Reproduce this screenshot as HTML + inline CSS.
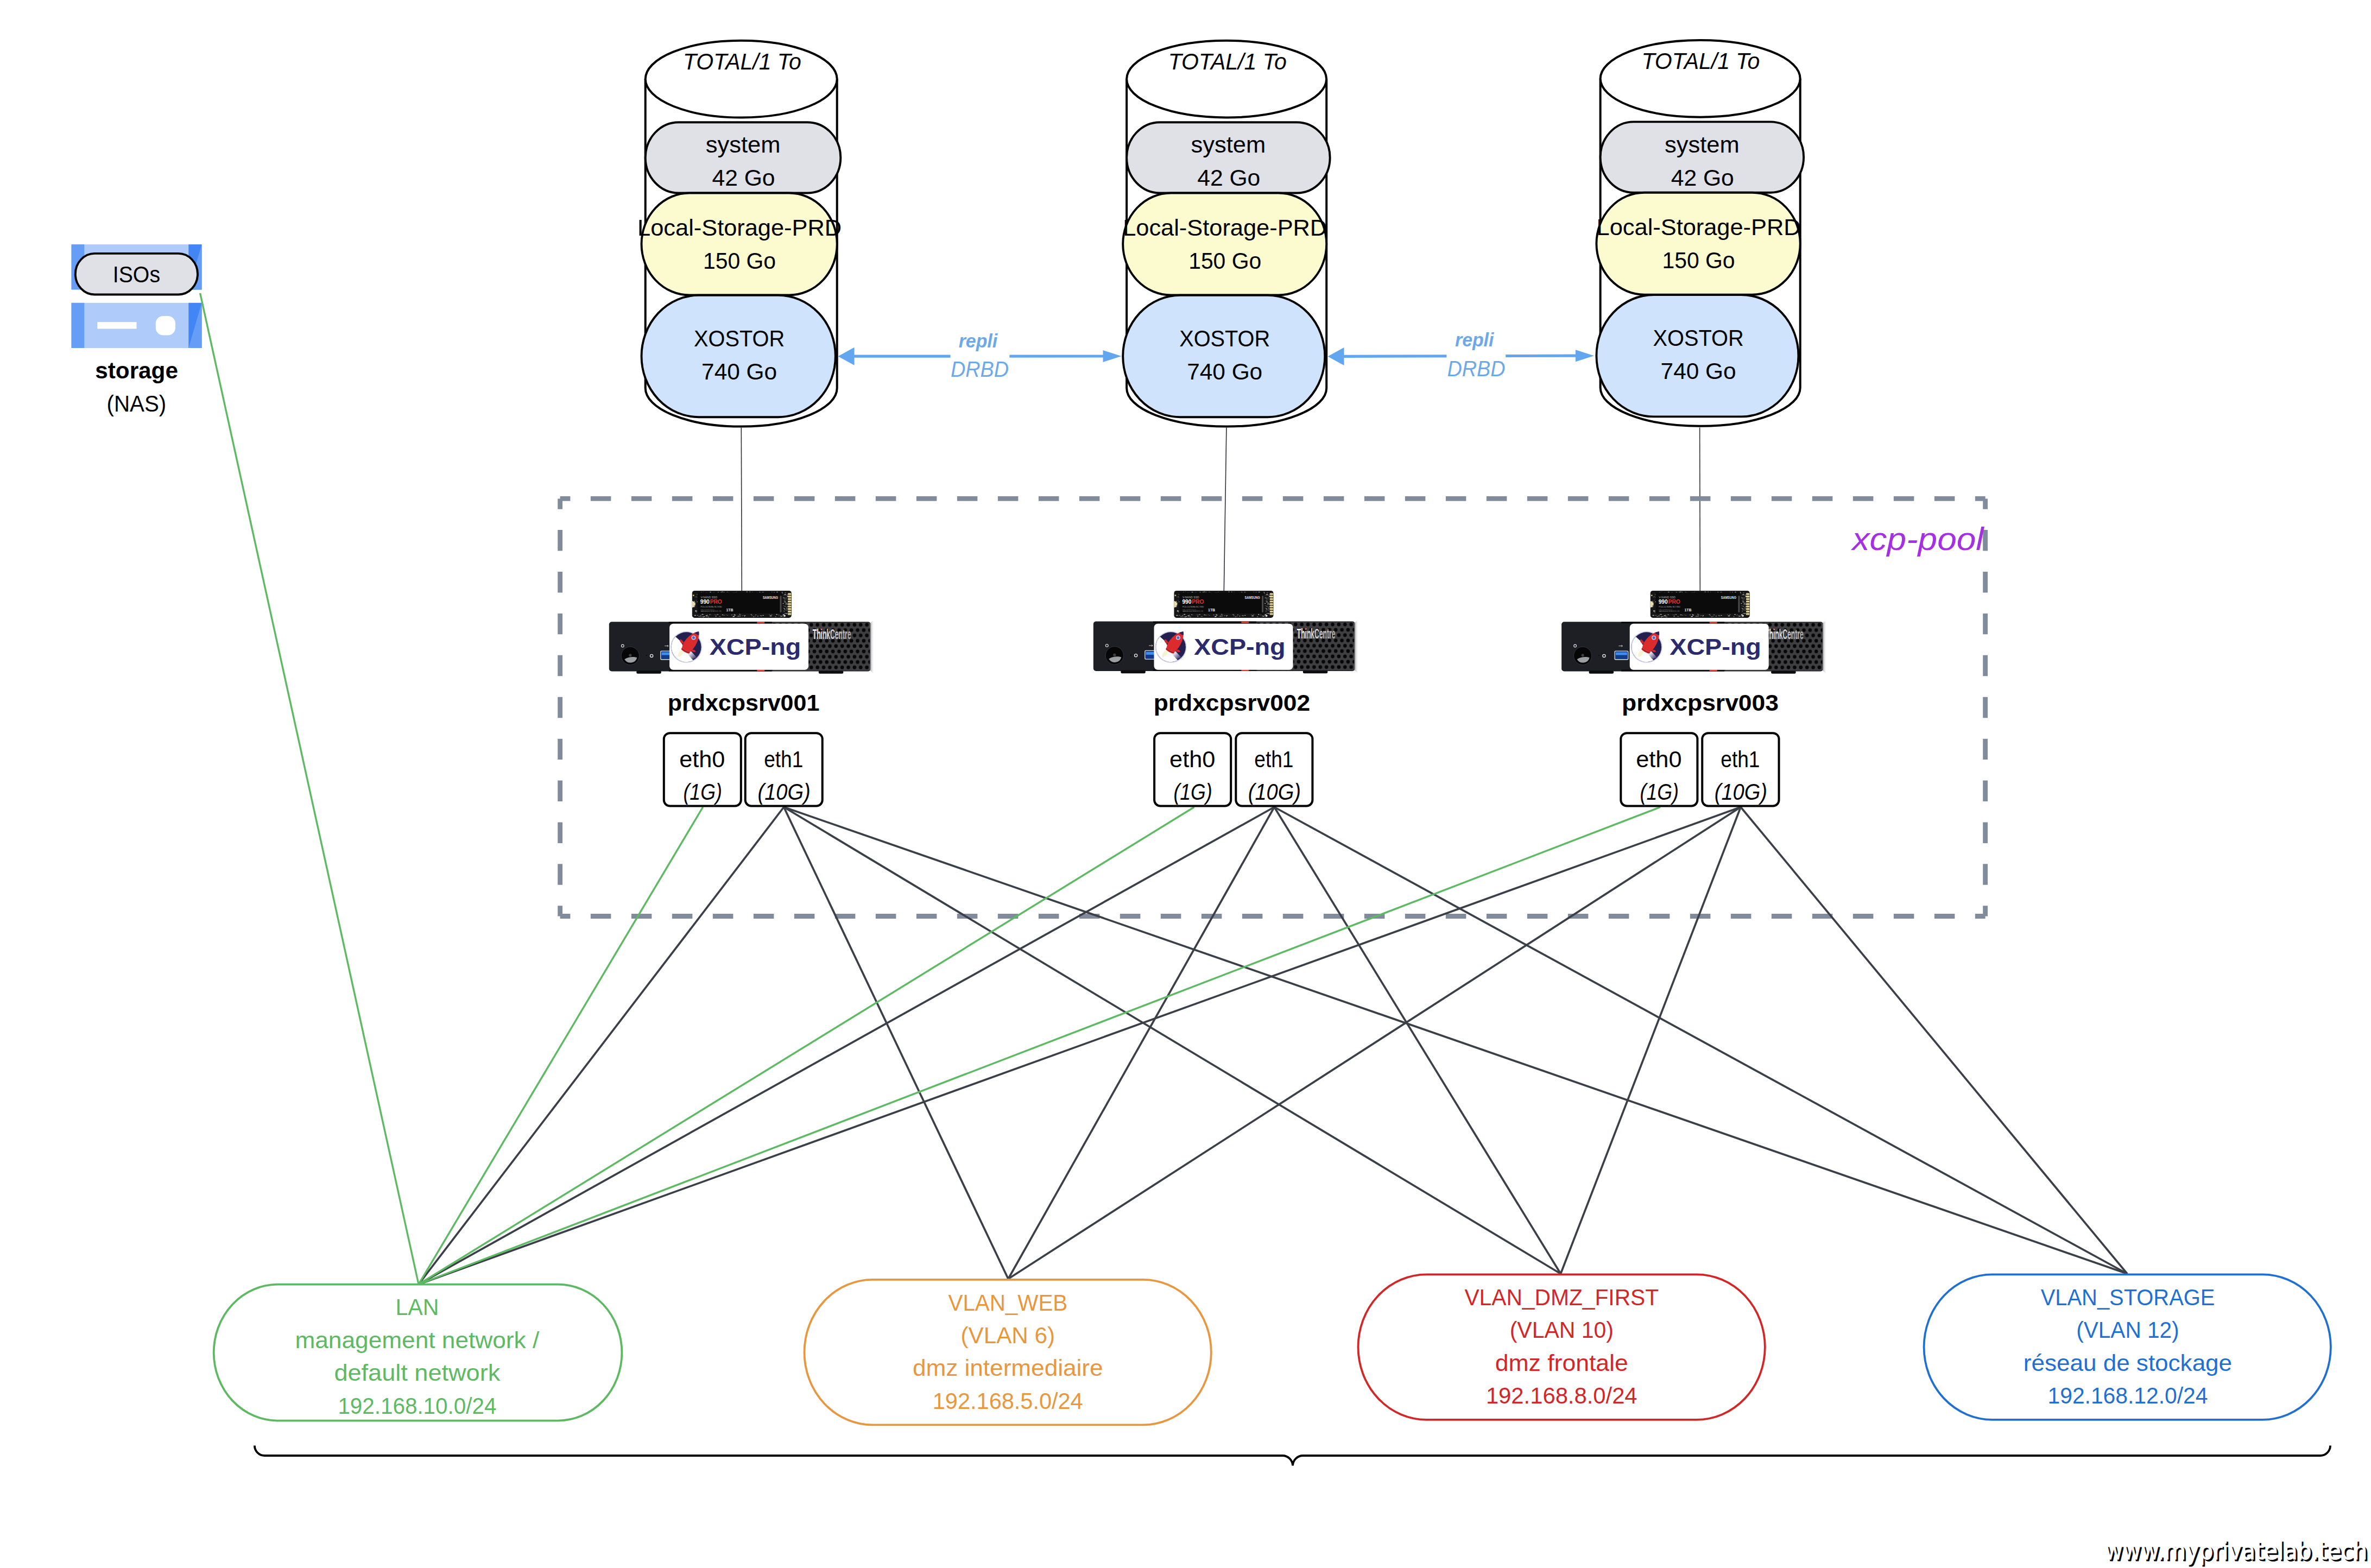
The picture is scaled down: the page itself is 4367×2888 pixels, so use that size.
<!DOCTYPE html>
<html lang="fr"><head><meta charset="utf-8"><title>xcp-pool</title>
<style>html,body{margin:0;padding:0;background:#fff}body{width:4367px;height:2888px;overflow:hidden}svg{display:block}</style>
</head><body>
<svg width="4367" height="2888" viewBox="0 0 4367 2888">
<rect width="4367" height="2888" fill="#fff"/>
<defs>
<pattern id="holes" x="366.8" y="0.7" width="11.37" height="19.6" patternUnits="userSpaceOnUse">
<rect width="11.37" height="19.6" fill="#3f3f42"/>
<circle cx="5.685" cy="4.9" r="3.35" fill="#060607"/>
<circle cx="0" cy="14.7" r="3.35" fill="#060607"/>
<circle cx="11.37" cy="14.7" r="3.35" fill="#060607"/>
</pattern>
<radialGradient id="btn" cx="0.5" cy="0.5" r="0.5">
<stop offset="0" stop-color="#4a4a4d"/><stop offset="0.55" stop-color="#1a1a1c"/><stop offset="0.8" stop-color="#050505"/><stop offset="1" stop-color="#2a2a2d"/>
</radialGradient>
<linearGradient id="edge" x1="0" x2="1" y1="0" y2="0">
<stop offset="0" stop-color="#8f8f92" stop-opacity="0.85"/><stop offset="1" stop-color="#e8e8ea" stop-opacity="0"/>
</linearGradient>
<linearGradient id="silver" x1="0" x2="1" y1="0" y2="0">
<stop offset="0" stop-color="#f4f4f6"/><stop offset="1" stop-color="#a9a9ad"/>
</linearGradient>
<linearGradient id="cloud" gradientUnits="userSpaceOnUse" x1="1" y1="6" x2="15" y2="21">
<stop offset="0" stop-color="#ffffff"/><stop offset="0.45" stop-color="#d6d4e4"/><stop offset="1" stop-color="#4c4675"/>
</linearGradient>
<clipPath id="logoclip"><circle cx="0" cy="0" r="28"/></clipPath>
</defs>
<g font-family="Liberation Sans, sans-serif">
<path d="M1188.7,145.6 V714.7 A176.5,70.9 0 0 0 1541.7,714.7 V145.6" fill="#fff" stroke="#000" stroke-width="4"/>
<ellipse cx="1365.2" cy="145.6" rx="176.5" ry="70.9" fill="#fff" stroke="#000" stroke-width="4"/>
<text x="1258.0" y="127.6" font-size="43" fill="#000" font-weight="normal" font-style="italic" textLength="217.9" lengthAdjust="spacingAndGlyphs" >TOTAL/1 To</text>
<rect x="1188.7" y="225.2" width="359.6" height="130.3" rx="61.2" ry="65.2" fill="#dfe1e6" stroke="#000" stroke-width="3.9"/>
<text x="1299.8" y="281.4" font-size="43" fill="#000" font-weight="normal" font-style="normal" textLength="137.6" lengthAdjust="spacingAndGlyphs" >system</text>
<text x="1311.5" y="342.4" font-size="43" fill="#000" font-weight="normal" font-style="normal" textLength="116.0" lengthAdjust="spacingAndGlyphs" >42 Go</text>
<rect x="1181.5" y="355.5" width="360.2" height="188.0" rx="88.4" ry="94.0" fill="#fbfbcf" stroke="#000" stroke-width="3.9"/>
<text x="1174.1" y="434.0" font-size="43" fill="#000" font-weight="normal" font-style="normal" textLength="376.0" lengthAdjust="spacingAndGlyphs" >Local-Storage-PRD</text>
<text x="1295.1" y="494.9" font-size="43" fill="#000" font-weight="normal" font-style="normal" textLength="134.0" lengthAdjust="spacingAndGlyphs" >150 Go</text>
<rect x="1181.5" y="543.8" width="357.3" height="224.4" rx="105.5" ry="112.2" fill="#cfe3fc" stroke="#000" stroke-width="3.9"/>
<text x="1278.1" y="638.0" font-size="43" fill="#000" font-weight="normal" font-style="normal" textLength="167.0" lengthAdjust="spacingAndGlyphs" >XOSTOR</text>
<text x="1292.1" y="698.5" font-size="43" fill="#000" font-weight="normal" font-style="normal" textLength="139.0" lengthAdjust="spacingAndGlyphs" >740 Go</text>
<path d="M2075.1,145.6 V714.7 A184.0,70.9 0 0 0 2443.2,714.7 V145.6" fill="#fff" stroke="#000" stroke-width="4"/>
<ellipse cx="2259.1" cy="145.6" rx="184.0" ry="70.9" fill="#fff" stroke="#000" stroke-width="4"/>
<text x="2151.8" y="127.6" font-size="43" fill="#000" font-weight="normal" font-style="italic" textLength="217.9" lengthAdjust="spacingAndGlyphs" >TOTAL/1 To</text>
<rect x="2075.1" y="225.2" width="374.5" height="130.3" rx="61.2" ry="65.2" fill="#dfe1e6" stroke="#000" stroke-width="3.9"/>
<text x="2193.6" y="281.4" font-size="43" fill="#000" font-weight="normal" font-style="normal" textLength="137.6" lengthAdjust="spacingAndGlyphs" >system</text>
<text x="2205.3" y="342.4" font-size="43" fill="#000" font-weight="normal" font-style="normal" textLength="116.0" lengthAdjust="spacingAndGlyphs" >42 Go</text>
<rect x="2068.2" y="355.5" width="375.0" height="188.0" rx="88.4" ry="94.0" fill="#fbfbcf" stroke="#000" stroke-width="3.9"/>
<text x="2068.2" y="434.0" font-size="43" fill="#000" font-weight="normal" font-style="normal" textLength="376.0" lengthAdjust="spacingAndGlyphs" >Local-Storage-PRD</text>
<text x="2189.2" y="494.9" font-size="43" fill="#000" font-weight="normal" font-style="normal" textLength="134.0" lengthAdjust="spacingAndGlyphs" >150 Go</text>
<rect x="2068.2" y="543.8" width="372.0" height="224.4" rx="105.5" ry="112.2" fill="#cfe3fc" stroke="#000" stroke-width="3.9"/>
<text x="2172.2" y="638.0" font-size="43" fill="#000" font-weight="normal" font-style="normal" textLength="167.0" lengthAdjust="spacingAndGlyphs" >XOSTOR</text>
<text x="2186.2" y="698.5" font-size="43" fill="#000" font-weight="normal" font-style="normal" textLength="139.0" lengthAdjust="spacingAndGlyphs" >740 Go</text>
<path d="M2947.6,144.8 V713.9 A184.0,70.9 0 0 0 3315.7,713.9 V144.8" fill="#fff" stroke="#000" stroke-width="4"/>
<ellipse cx="3131.6" cy="144.8" rx="184.0" ry="70.9" fill="#fff" stroke="#000" stroke-width="4"/>
<text x="3023.5" y="126.8" font-size="43" fill="#000" font-weight="normal" font-style="italic" textLength="217.9" lengthAdjust="spacingAndGlyphs" >TOTAL/1 To</text>
<rect x="2947.6" y="224.4" width="374.5" height="130.3" rx="61.2" ry="65.2" fill="#dfe1e6" stroke="#000" stroke-width="3.9"/>
<text x="3066.1" y="280.6" font-size="43" fill="#000" font-weight="normal" font-style="normal" textLength="137.6" lengthAdjust="spacingAndGlyphs" >system</text>
<text x="3077.8" y="341.6" font-size="43" fill="#000" font-weight="normal" font-style="normal" textLength="116.0" lengthAdjust="spacingAndGlyphs" >42 Go</text>
<rect x="2940.4" y="354.7" width="375.3" height="188.0" rx="88.4" ry="94.0" fill="#fbfbcf" stroke="#000" stroke-width="3.9"/>
<text x="2940.6" y="433.2" font-size="43" fill="#000" font-weight="normal" font-style="normal" textLength="376.0" lengthAdjust="spacingAndGlyphs" >Local-Storage-PRD</text>
<text x="3061.6" y="494.1" font-size="43" fill="#000" font-weight="normal" font-style="normal" textLength="134.0" lengthAdjust="spacingAndGlyphs" >150 Go</text>
<rect x="2940.4" y="543.0" width="372.0" height="224.4" rx="105.5" ry="112.2" fill="#cfe3fc" stroke="#000" stroke-width="3.9"/>
<text x="3044.6" y="637.2" font-size="43" fill="#000" font-weight="normal" font-style="normal" textLength="167.0" lengthAdjust="spacingAndGlyphs" >XOSTOR</text>
<text x="3058.6" y="697.7" font-size="43" fill="#000" font-weight="normal" font-style="normal" textLength="139.0" lengthAdjust="spacingAndGlyphs" >740 Go</text>
<line x1="1365.3" y1="787.5" x2="1366.3" y2="1089" stroke="#2e3238" stroke-width="1.6"/>
<line x1="2258.9" y1="787.5" x2="2254.3" y2="1089" stroke="#2e3238" stroke-width="1.6"/>
<line x1="3130.6" y1="787.5" x2="3131.3" y2="1089" stroke="#2e3238" stroke-width="1.6"/>
<line x1="1568.5" y1="656.2" x2="2035.5" y2="656.0" stroke="#62a6f0" stroke-width="5.2"/>
<polygon points="1543.5,656.2 1573.5,639.7 1573.5,672.7" fill="#62a6f0"/>
<polygon points="2065.5,656.0 2031.5,645.0 2031.5,667.0" fill="#62a6f0"/>
<rect x="1750.5" y="606.2" width="108.79999999999995" height="95" fill="#fff"/>
<text x="1765.7" y="639.7" font-size="35" fill="#6da9ea" font-weight="bold" font-style="italic" textLength="71.4" lengthAdjust="spacingAndGlyphs" >repli</text>
<text x="1751.1" y="694.1" font-size="40" fill="#6da9ea" font-weight="normal" font-style="italic" textLength="106.9" lengthAdjust="spacingAndGlyphs" >DRBD</text>
<line x1="2470.5" y1="656.4" x2="2905.9" y2="655.2" stroke="#62a6f0" stroke-width="5.2"/>
<polygon points="2445.5,656.4 2475.5,639.9 2475.5,672.9" fill="#62a6f0"/>
<polygon points="2935.9,655.2 2901.9,644.2 2901.9,666.2" fill="#62a6f0"/>
<rect x="2664.4" y="606.4" width="108.79999999999973" height="95" fill="#fff"/>
<text x="2680.0" y="638.4" font-size="35" fill="#6da9ea" font-weight="bold" font-style="italic" textLength="71.4" lengthAdjust="spacingAndGlyphs" >repli</text>
<text x="2665.5" y="693.4" font-size="40" fill="#6da9ea" font-weight="normal" font-style="italic" textLength="106.9" lengthAdjust="spacingAndGlyphs" >DRBD</text>
<line x1="1031.6" y1="918.4" x2="3656.6" y2="918.4" stroke="#808b9c" stroke-width="8.8" stroke-dasharray="37.500 37.500" stroke-dashoffset="18.750"/>
<line x1="1031.6" y1="1687.5" x2="3656.6" y2="1687.5" stroke="#808b9c" stroke-width="8.8" stroke-dasharray="37.500 37.500" stroke-dashoffset="18.750"/>
<line x1="1031.6" y1="918.4" x2="1031.6" y2="1687.5" stroke="#808b9c" stroke-width="8.8" stroke-dasharray="38.455 38.455" stroke-dashoffset="19.227"/>
<line x1="3656.6" y1="918.4" x2="3656.6" y2="1687.5" stroke="#808b9c" stroke-width="8.8" stroke-dasharray="38.455 38.455" stroke-dashoffset="19.227"/>
<text x="3411.6" y="1012.5" font-size="59" fill="#a62fe2" font-weight="normal" font-style="italic" textLength="242.0" lengthAdjust="spacingAndGlyphs" >xcp-pool</text>
<line x1="1443.7" y1="1486.5" x2="771" y2="2365.5" stroke="#3b4048" stroke-width="3.7"/>
<line x1="1443.7" y1="1486.5" x2="1857" y2="2355.5" stroke="#3b4048" stroke-width="3.7"/>
<line x1="1443.7" y1="1486.5" x2="2874.5" y2="2346" stroke="#3b4048" stroke-width="3.7"/>
<line x1="1443.7" y1="1486.5" x2="3918" y2="2346" stroke="#3b4048" stroke-width="3.7"/>
<line x1="2347" y1="1486.5" x2="771" y2="2365.5" stroke="#3b4048" stroke-width="3.7"/>
<line x1="2347" y1="1486.5" x2="1857" y2="2355.5" stroke="#3b4048" stroke-width="3.7"/>
<line x1="2347" y1="1486.5" x2="2874.5" y2="2346" stroke="#3b4048" stroke-width="3.7"/>
<line x1="2347" y1="1486.5" x2="3918" y2="2346" stroke="#3b4048" stroke-width="3.7"/>
<line x1="3206.1" y1="1486.5" x2="771" y2="2365.5" stroke="#3b4048" stroke-width="3.7"/>
<line x1="3206.1" y1="1486.5" x2="1857" y2="2355.5" stroke="#3b4048" stroke-width="3.7"/>
<line x1="3206.1" y1="1486.5" x2="2874.5" y2="2346" stroke="#3b4048" stroke-width="3.7"/>
<line x1="3206.1" y1="1486.5" x2="3918" y2="2346" stroke="#3b4048" stroke-width="3.7"/>
<line x1="1294.6" y1="1486.5" x2="771" y2="2365.5" stroke="#5dba63" stroke-width="3.4"/>
<line x1="2199.5" y1="1486.5" x2="771" y2="2365.5" stroke="#5dba63" stroke-width="3.4"/>
<line x1="3058" y1="1486.5" x2="771" y2="2365.5" stroke="#5dba63" stroke-width="3.4"/>
<line x1="368.6" y1="540" x2="771" y2="2365.5" stroke="#5dba63" stroke-width="3.4"/>
<rect x="131.5" y="450.2" width="240" height="83.2" fill="#aecbfa"/>
<rect x="131.5" y="450.2" width="23.8" height="83.2" fill="#669df6"/>
<rect x="347.3" y="450.2" width="24.2" height="83.2" fill="#4285f4"/>
<polygon points="371.5,450.2 371.5,533.4 347.3,533.4" fill="#669df6"/>
<rect x="131.5" y="557.8" width="240" height="83.2" fill="#aecbfa"/>
<rect x="131.5" y="557.8" width="23.8" height="83.2" fill="#669df6"/>
<rect x="347.3" y="557.8" width="24.2" height="83.2" fill="#4285f4"/>
<polygon points="371.5,557.8 371.5,641.0 347.3,641.0" fill="#669df6"/>
<rect x="179.3" y="593.1" width="72.2" height="12.4" fill="#fff"/>
<rect x="286.7" y="581.9" width="36.3" height="35.7" rx="14" fill="#fff"/>
<rect x="138.8" y="466.9" width="225.2" height="75.6" rx="35.5" ry="37.8" fill="#dfe1e6" stroke="#000" stroke-width="3.9"/>
<text x="207.8" y="519.9" font-size="43" fill="#000" font-weight="normal" font-style="normal" textLength="87.2" lengthAdjust="spacingAndGlyphs" >ISOs</text>
<text x="175.2" y="697.1" font-size="43" fill="#000" font-weight="bold" font-style="normal" textLength="152.8" lengthAdjust="spacingAndGlyphs" >storage</text>
<text x="196.5" y="758.2" font-size="43" fill="#000" font-weight="normal" font-style="normal" textLength="109.7" lengthAdjust="spacingAndGlyphs" >(NAS)</text>
<g transform="translate(1121.8,1145.2)">
<rect x="0" y="0" width="482" height="91.3" rx="5" fill="#1e1f25"/>
<rect x="110" y="0" width="190" height="3" fill="#0a0a0b"/><rect x="110" y="88.3" width="190" height="3" fill="#0a0a0b"/>
<rect x="50.5" y="90" width="45.5" height="5.6" rx="2.2" fill="#0d0d0f"/><rect x="386" y="90" width="45.5" height="5.6" rx="2.2" fill="#0d0d0f"/>
<rect x="300" y="1.2" width="180.8" height="88.9" rx="4" fill="url(#holes)"/>
<polygon points="480.5,3 487,-3 488,97 480.5,89" fill="url(#edge)"/>
<rect x="272.5" y="0" width="14" height="3" fill="#e23b2e"/><rect x="272.5" y="88.6" width="14" height="2.7" fill="#e23b2e"/>
<circle cx="39" cy="62.7" r="16.6" fill="#060607"/><circle cx="39" cy="62.7" r="16.6" fill="none" stroke="#34353c" stroke-width="1"/>
<path d="M28.5,69 A12.5,12.5 0 0 0 51.5,66 C46,64 36,64 28.5,69 Z" fill="#b9babd" opacity="0.85"/>
<circle cx="39" cy="61.6" r="2.6" fill="#3d3e44"/>
<circle cx="25" cy="44.3" r="2.4" fill="none" stroke="#e8e8e8" stroke-width="1.1"/>
<circle cx="78.3" cy="62.7" r="2.6" fill="none" stroke="#e8e8e8" stroke-width="1.3"/><circle cx="69" cy="62" r="1" fill="#08080a"/>
<rect x="94.3" y="53.2" width="26" height="17" rx="2.2" fill="#d7dbe3"/><rect x="95.6" y="54.5" width="23.4" height="14.4" rx="1.4" fill="#123a8a"/><rect x="96.89999999999999" y="56.3" width="20.8" height="5" fill="#3f8ff0"/>
<path d="M102.3,44.5 h7 m-2,-1.6 l2,1.6 l-2,1.6" fill="none" stroke="#d9d9d9" stroke-width="0.9"/>
<text x="375" y="31.7" font-size="25.5" font-weight="bold" fill="url(#silver)" textLength="70.6" lengthAdjust="spacingAndGlyphs">ThinkCentre</text>
<circle cx="390.4" cy="13.2" r="1.4" fill="#d8362b"/>
</g>
<rect x="1233.1" y="1148.8" width="256" height="85" rx="7" fill="#fff"/>
<g transform="translate(1264.1,1191.7)">
<circle r="29" fill="#c9cbe6"/><circle r="27.4" fill="#231f4e"/>
<path d="M-19.8,-18.9 L-12,-12 L-7,-4 L-4,4 L3,9 L9,20 L12.5,24.4 A27.4,27.4 0 0 1 -19.8,-18.9 Z" fill="#fff"/>
<path d="M-4.5,4.5 L9,8 L19.2,19.3 L10.5,22.3 Z" fill="url(#cloud)"/>
<ellipse cx="-10.5" cy="11.5" rx="3.6" ry="7.5" transform="rotate(38 -10.5 11.5)" fill="#f4eeb9" opacity="0.7"/>
<path d="M23,-28.5 C12,-27 1,-19 -6,-6 L-8,1 C-4,5 2,8 7,9 L12,4 C20,-6 24,-17 23,-28.5 Z" fill="#db2b2c"/>
<path d="M23,-28.5 C20,-28.3 17.5,-27.5 15,-26.3 C17.5,-24 20.5,-22.5 23.3,-21.8 C23.6,-24 23.4,-26.5 23,-28.5 Z" fill="#2a2460"/>
<path d="M-4.5,-8.5 C-8,-14 -11,-15.5 -11.8,-13 C-12.5,-10.5 -10,-8 -7.5,-6 Z" fill="#d42627"/>
<path d="M10,5 C14,4 17,6 17,8.5 C16.5,10 13,9.5 9.5,8 Z" fill="#d42627"/>
<path d="M-8,1 C-4,5 2,8 7,9 L5,12 C0,11 -6,8 -9.5,4 Z" fill="#b71f22"/>
<circle cx="13.4" cy="-17.3" r="4" fill="#c9cbe6"/><circle cx="13.4" cy="-17.3" r="2.5" fill="#5862bf"/>
</g>
<text x="1306.7" y="1206.3" font-size="43" font-weight="bold" fill="#2b2a6c" textLength="168.5" lengthAdjust="spacingAndGlyphs">XCP-ng</text>
<g transform="translate(1274.8,1087.9)">
<rect x="0" y="0" width="183" height="50" rx="4.5" fill="#161617"/>
<rect x="175.5" y="3.5" width="7" height="43" rx="2" fill="#2a2618"/>
<rect x="176.3" y="4.6" width="6.2" height="3.3" rx="1.2" fill="#e2d194"/>
<rect x="176.3" y="9.2" width="6.2" height="3.3" rx="1.2" fill="#e2d194"/>
<rect x="176.3" y="13.8" width="6.2" height="3.3" rx="1.2" fill="#e2d194"/>
<rect x="176.3" y="18.4" width="6.2" height="3.3" rx="1.2" fill="#e2d194"/>
<rect x="176.3" y="23.0" width="6.2" height="3.3" rx="1.2" fill="#e2d194"/>
<rect x="176.3" y="27.6" width="6.2" height="3.3" rx="1.2" fill="#e2d194"/>
<rect x="176.3" y="32.2" width="6.2" height="3.3" rx="1.2" fill="#e2d194"/>
<rect x="176.3" y="36.8" width="6.2" height="3.3" rx="1.2" fill="#e2d194"/>
<rect x="176.3" y="41.4" width="6.2" height="3.3" rx="1.2" fill="#e2d194"/>
<path d="M0,19 A6,6 0 0 1 0,31 Z" fill="#e9dcae"/><rect x="1.2" y="7.5" width="2.6" height="2.6" fill="#cdb46a"/>
<rect x="63.8" y="2.2" width="2.4" height="0.7" fill="#777"/>
<rect x="27.1" y="3.9" width="3.0" height="0.8" fill="#8f8f8f"/>
<rect x="81.4" y="1.9" width="1.0" height="0.9" fill="#777"/>
<rect x="31.8" y="2.5" width="2.3" height="1.3" fill="#777"/>
<rect x="105.7" y="1.8" width="1.3" height="1.0" fill="#c9c9c9"/>
<rect x="58.3" y="2.2" width="1.1" height="0.8" fill="#c9c9c9"/>
<rect x="28.5" y="3.8" width="1.3" height="0.7" fill="#8f8f8f"/>
<rect x="102.3" y="4.0" width="2.0" height="1.0" fill="#5c5c5c"/>
<rect x="86.5" y="5.2" width="1.7" height="0.8" fill="#c9c9c9"/>
<rect x="123.8" y="2.6" width="2.2" height="1.0" fill="#5c5c5c"/>
<rect x="128.7" y="2.7" width="3.2" height="0.7" fill="#e6e6e6"/>
<rect x="38.4" y="2.9" width="3.0" height="0.9" fill="#8f8f8f"/>
<rect x="134.3" y="3.8" width="2.9" height="0.8" fill="#5c5c5c"/>
<rect x="107.1" y="3.9" width="1.9" height="1.2" fill="#5c5c5c"/>
<rect x="87.9" y="4.2" width="0.9" height="1.1" fill="#777"/>
<rect x="170.9" y="4.8" width="1.5" height="0.9" fill="#5c5c5c"/>
<rect x="15.6" y="3.4" width="1.2" height="0.7" fill="#8f8f8f"/>
<rect x="46.9" y="2.7" width="2.6" height="0.9" fill="#e6e6e6"/>
<rect x="24.9" y="3.4" width="2.1" height="1.2" fill="#e6e6e6"/>
<rect x="150.2" y="2.7" width="1.8" height="0.9" fill="#e6e6e6"/>
<rect x="165.2" y="2.2" width="1.2" height="0.8" fill="#c9c9c9"/>
<rect x="13.9" y="4.8" width="1.2" height="0.8" fill="#c9c9c9"/>
<rect x="79.0" y="3.0" width="2.2" height="1.3" fill="#777"/>
<rect x="164.0" y="4.2" width="2.6" height="0.9" fill="#777"/>
<rect x="74.8" y="3.2" width="1.0" height="1.0" fill="#8f8f8f"/>
<rect x="42.5" y="5.4" width="1.9" height="0.7" fill="#777"/>
<rect x="20.4" y="1.6" width="1.2" height="0.7" fill="#5c5c5c"/>
<rect x="110.2" y="1.9" width="1.3" height="0.9" fill="#5c5c5c"/>
<rect x="164.9" y="3.9" width="1.9" height="0.7" fill="#e6e6e6"/>
<rect x="170.9" y="3.4" width="2.0" height="0.7" fill="#8f8f8f"/>
<rect x="131.9" y="4.5" width="1.9" height="1.1" fill="#777"/>
<rect x="15.7" y="5.3" width="2.1" height="0.7" fill="#777"/>
<rect x="158.3" y="4.6" width="1.5" height="1.1" fill="#8f8f8f"/>
<rect x="123.4" y="2.6" width="1.7" height="0.7" fill="#c9c9c9"/>
<rect x="97.2" y="4.6" width="1.6" height="0.8" fill="#c9c9c9"/>
<rect x="141.0" y="4.8" width="2.6" height="0.8" fill="#777"/>
<rect x="90.8" y="4.5" width="3.2" height="1.2" fill="#e6e6e6"/>
<rect x="53.5" y="4.3" width="3.1" height="0.9" fill="#5c5c5c"/>
<rect x="164.8" y="3.0" width="1.3" height="0.8" fill="#c9c9c9"/>
<rect x="66.0" y="3.5" width="3.2" height="1.0" fill="#8f8f8f"/>
<rect x="88.7" y="4.1" width="2.7" height="0.7" fill="#8f8f8f"/>
<rect x="157.6" y="4.7" width="2.6" height="0.9" fill="#c9c9c9"/>
<rect x="81.4" y="4.1" width="1.0" height="1.3" fill="#e6e6e6"/>
<rect x="86.1" y="4.5" width="1.0" height="0.7" fill="#c9c9c9"/>
<rect x="16.4" y="3.9" width="1.9" height="1.1" fill="#777"/>
<rect x="144.2" y="5.4" width="2.4" height="0.8" fill="#777"/>
<rect x="99.7" y="1.7" width="2.7" height="1.1" fill="#8f8f8f"/>
<rect x="96.3" y="5.2" width="1.8" height="1.2" fill="#c9c9c9"/>
<rect x="16.5" y="2.4" width="2.0" height="1.1" fill="#5c5c5c"/>
<rect x="53.5" y="3.2" width="1.1" height="1.2" fill="#5c5c5c"/>
<rect x="155.6" y="4.2" width="2.8" height="1.0" fill="#777"/>
<rect x="32.9" y="2.2" width="2.0" height="1.2" fill="#c9c9c9"/>
<rect x="109.4" y="4.6" width="1.2" height="0.7" fill="#777"/>
<rect x="128.0" y="3.8" width="1.6" height="1.0" fill="#777"/>
<rect x="89.2" y="4.6" width="2.9" height="0.6" fill="#c9c9c9"/>
<rect x="56.3" y="4.6" width="2.0" height="1.0" fill="#8f8f8f"/>
<rect x="82.9" y="4.0" width="2.0" height="1.0" fill="#5c5c5c"/>
<rect x="84.4" y="3.7" width="1.9" height="1.3" fill="#777"/>
<rect x="152.2" y="5.3" width="1.4" height="1.0" fill="#c9c9c9"/>
<rect x="146.4" y="2.1" width="1.1" height="0.9" fill="#8f8f8f"/>
<rect x="119.4" y="3.3" width="1.3" height="0.8" fill="#8f8f8f"/>
<rect x="155.5" y="2.2" width="2.5" height="1.1" fill="#c9c9c9"/>
<rect x="52.5" y="2.1" width="1.9" height="1.1" fill="#8f8f8f"/>
<rect x="75.7" y="3.5" width="3.2" height="1.2" fill="#c9c9c9"/>
<rect x="125.0" y="5.5" width="1.8" height="0.9" fill="#5c5c5c"/>
<rect x="63.0" y="4.4" width="0.8" height="1.0" fill="#e6e6e6"/>
<rect x="124.5" y="3.1" width="2.0" height="0.8" fill="#8f8f8f"/>
<rect x="30.1" y="5.2" width="1.3" height="1.2" fill="#8f8f8f"/>
<rect x="54.5" y="1.8" width="2.7" height="0.8" fill="#c9c9c9"/>
<rect x="143.2" y="4.9" width="2.4" height="1.3" fill="#e6e6e6"/>
<rect x="29.1" y="47.8" width="2.2" height="1.1" fill="#8f8f8f"/>
<rect x="50.9" y="47.1" width="1.2" height="1.2" fill="#5c5c5c"/>
<rect x="161.6" y="46.2" width="2.7" height="0.7" fill="#c9c9c9"/>
<rect x="15.2" y="47.5" width="1.9" height="0.8" fill="#777"/>
<rect x="74.2" y="47.7" width="2.3" height="0.6" fill="#c9c9c9"/>
<rect x="161.6" y="48.0" width="1.4" height="0.7" fill="#5c5c5c"/>
<rect x="109.6" y="45.7" width="1.3" height="0.9" fill="#c9c9c9"/>
<rect x="49.4" y="47.1" width="3.2" height="0.6" fill="#8f8f8f"/>
<rect x="127.2" y="45.8" width="1.3" height="0.9" fill="#e6e6e6"/>
<rect x="21.9" y="47.2" width="1.8" height="0.9" fill="#e6e6e6"/>
<rect x="167.0" y="44.5" width="1.3" height="0.8" fill="#c9c9c9"/>
<rect x="143.8" y="46.6" width="2.3" height="0.9" fill="#5c5c5c"/>
<rect x="169.0" y="47.3" width="0.8" height="1.0" fill="#5c5c5c"/>
<rect x="76.4" y="43.1" width="2.4" height="0.9" fill="#777"/>
<rect x="116.7" y="44.3" width="1.4" height="0.8" fill="#e6e6e6"/>
<rect x="35.1" y="44.3" width="0.8" height="0.9" fill="#5c5c5c"/>
<rect x="167.4" y="45.8" width="1.4" height="1.3" fill="#5c5c5c"/>
<rect x="40.6" y="43.8" width="1.6" height="0.7" fill="#5c5c5c"/>
<rect x="88.5" y="43.9" width="2.0" height="0.6" fill="#5c5c5c"/>
<rect x="141.3" y="43.6" width="2.2" height="0.9" fill="#5c5c5c"/>
<rect x="55.1" y="44.1" width="2.2" height="1.0" fill="#c9c9c9"/>
<rect x="114.5" y="46.7" width="2.9" height="0.9" fill="#5c5c5c"/>
<rect x="125.1" y="45.5" width="1.5" height="1.0" fill="#c9c9c9"/>
<rect x="11.4" y="47.3" width="2.9" height="1.0" fill="#777"/>
<rect x="27.4" y="45.6" width="2.0" height="1.2" fill="#8f8f8f"/>
<rect x="142.8" y="46.0" width="2.9" height="1.1" fill="#c9c9c9"/>
<rect x="18.3" y="43.0" width="2.3" height="1.3" fill="#e6e6e6"/>
<rect x="144.4" y="45.8" width="2.3" height="1.0" fill="#c9c9c9"/>
<rect x="86.2" y="42.8" width="2.7" height="1.1" fill="#777"/>
<rect x="154.8" y="43.3" width="2.1" height="1.1" fill="#e6e6e6"/>
<rect x="46.4" y="43.2" width="1.4" height="1.1" fill="#c9c9c9"/>
<rect x="42.8" y="46.3" width="1.9" height="1.2" fill="#8f8f8f"/>
<rect x="84.5" y="46.5" width="2.6" height="1.0" fill="#c9c9c9"/>
<rect x="17.0" y="43.6" width="1.4" height="1.1" fill="#5c5c5c"/>
<rect x="108.4" y="43.5" width="2.0" height="0.9" fill="#8f8f8f"/>
<rect x="120.3" y="46.4" width="1.5" height="1.0" fill="#e6e6e6"/>
<rect x="82.3" y="46.9" width="3.2" height="1.0" fill="#5c5c5c"/>
<rect x="168.3" y="47.9" width="0.8" height="0.9" fill="#777"/>
<rect x="166.6" y="45.2" width="1.4" height="0.7" fill="#c9c9c9"/>
<rect x="16.5" y="43.3" width="2.6" height="0.8" fill="#5c5c5c"/>
<rect x="26.3" y="47.2" width="2.0" height="1.2" fill="#5c5c5c"/>
<rect x="42.9" y="47.6" width="2.0" height="0.6" fill="#8f8f8f"/>
<rect x="163.6" y="46.5" width="1.8" height="1.1" fill="#e6e6e6"/>
<rect x="61.8" y="44.5" width="2.8" height="0.6" fill="#5c5c5c"/>
<rect x="145.0" y="43.4" width="3.0" height="1.1" fill="#5c5c5c"/>
<rect x="46.5" y="43.2" width="1.7" height="1.2" fill="#8f8f8f"/>
<rect x="64.6" y="45.1" width="1.5" height="0.6" fill="#8f8f8f"/>
<rect x="12.7" y="46.4" width="2.3" height="0.7" fill="#5c5c5c"/>
<rect x="77.3" y="44.5" width="2.7" height="1.1" fill="#e6e6e6"/>
<rect x="152.6" y="47.2" width="2.3" height="1.2" fill="#777"/>
<rect x="96.3" y="46.7" width="0.9" height="1.1" fill="#e6e6e6"/>
<rect x="107.3" y="43.5" width="2.9" height="0.9" fill="#777"/>
<rect x="25.4" y="45.3" width="1.6" height="0.8" fill="#5c5c5c"/>
<rect x="72.2" y="44.1" width="2.0" height="1.1" fill="#8f8f8f"/>
<rect x="32.1" y="43.7" width="1.3" height="1.2" fill="#e6e6e6"/>
<rect x="96.5" y="45.2" width="1.6" height="1.1" fill="#e6e6e6"/>
<rect x="27.5" y="43.8" width="1.0" height="0.8" fill="#8f8f8f"/>
<rect x="57.6" y="44.8" width="2.7" height="0.7" fill="#8f8f8f"/>
<rect x="129.9" y="45.0" width="1.8" height="1.0" fill="#e6e6e6"/>
<rect x="49.4" y="46.9" width="2.0" height="1.0" fill="#5c5c5c"/>
<rect x="25.1" y="45.5" width="2.3" height="1.2" fill="#c9c9c9"/>
<rect x="19.6" y="47.6" width="1.7" height="1.1" fill="#e6e6e6"/>
<rect x="164.3" y="47.4" width="2.9" height="0.6" fill="#8f8f8f"/>
<rect x="75.4" y="46.9" width="2.7" height="1.3" fill="#e6e6e6"/>
<rect x="4.0" y="44.9" width="3.0" height="1.2" fill="#e6e6e6"/>
<rect x="167.3" y="44.1" width="1.1" height="0.7" fill="#777"/>
<rect x="167.3" y="43.4" width="2.8" height="1.1" fill="#e6e6e6"/>
<rect x="18.3" y="47.0" width="0.8" height="0.7" fill="#777"/>
<rect x="158.5" y="46.3" width="1.5" height="0.7" fill="#5c5c5c"/>
<rect x="92.7" y="45.2" width="2.6" height="0.7" fill="#5c5c5c"/>
<rect x="92.1" y="45.9" width="1.7" height="0.8" fill="#777"/>
<rect x="4.2" y="45.7" width="3.2" height="0.8" fill="#5c5c5c"/>
<rect x="112.3" y="47.6" width="1.9" height="0.8" fill="#c9c9c9"/>
<rect x="8.9" y="45.0" width="2.4" height="0.6" fill="#c9c9c9"/>
<rect x="87.7" y="46.4" width="1.8" height="0.8" fill="#e6e6e6"/>
<rect x="159.4" y="44.0" width="0.9" height="0.8" fill="#e6e6e6"/>
<rect x="64.9" y="44.9" width="0.8" height="0.8" fill="#777"/>
<rect x="15.3" y="45.5" width="1.3" height="1.1" fill="#c9c9c9"/>
<rect x="42.8" y="44.0" width="2.6" height="0.8" fill="#777"/>
<rect x="87.3" y="43.8" width="1.3" height="0.9" fill="#8f8f8f"/>
<rect x="174.6" y="11.3" width="1.7" height="0.7" fill="#777"/>
<rect x="167.7" y="7.9" width="0.9" height="0.9" fill="#5c5c5c"/>
<rect x="172.7" y="41.9" width="3.0" height="0.8" fill="#c9c9c9"/>
<rect x="172.0" y="24.9" width="1.9" height="0.8" fill="#e6e6e6"/>
<rect x="173.6" y="41.5" width="1.9" height="0.7" fill="#8f8f8f"/>
<rect x="168.9" y="18.7" width="3.1" height="0.7" fill="#c9c9c9"/>
<rect x="169.7" y="33.7" width="1.5" height="1.2" fill="#8f8f8f"/>
<rect x="166.9" y="23.0" width="1.7" height="1.2" fill="#c9c9c9"/>
<rect x="169.2" y="32.5" width="1.9" height="1.0" fill="#c9c9c9"/>
<rect x="173.4" y="33.6" width="0.9" height="0.6" fill="#8f8f8f"/>
<rect x="173.3" y="8.2" width="1.3" height="0.6" fill="#777"/>
<rect x="169.4" y="15.8" width="3.1" height="1.0" fill="#5c5c5c"/>
<rect x="172.8" y="30.8" width="3.0" height="0.8" fill="#777"/>
<rect x="174.3" y="28.8" width="3.1" height="0.6" fill="#c9c9c9"/>
<rect x="167.4" y="31.8" width="1.9" height="1.1" fill="#5c5c5c"/>
<rect x="174.3" y="35.3" width="1.1" height="0.9" fill="#8f8f8f"/>
<rect x="173.3" y="32.6" width="2.8" height="1.1" fill="#777"/>
<rect x="168.5" y="37.0" width="1.9" height="1.1" fill="#777"/>
<rect x="167.2" y="13.1" width="2.6" height="0.8" fill="#8f8f8f"/>
<rect x="172.0" y="23.3" width="2.1" height="0.7" fill="#e6e6e6"/>
<rect x="174.0" y="41.6" width="1.4" height="0.7" fill="#8f8f8f"/>
<rect x="170.1" y="41.6" width="3.1" height="0.7" fill="#c9c9c9"/>
<rect x="170.0" y="28.3" width="2.4" height="1.1" fill="#8f8f8f"/>
<rect x="173.1" y="16.6" width="1.5" height="0.8" fill="#5c5c5c"/>
<rect x="172.8" y="13.2" width="1.4" height="0.8" fill="#c9c9c9"/>
<rect x="168.9" y="38.7" width="1.3" height="0.6" fill="#5c5c5c"/>
<rect x="174.9" y="24.3" width="1.4" height="1.2" fill="#e6e6e6"/>
<rect x="174.9" y="9.7" width="1.9" height="1.2" fill="#e6e6e6"/>
<rect x="174.3" y="7.5" width="1.5" height="0.7" fill="#c9c9c9"/>
<rect x="171.6" y="35.8" width="1.3" height="0.7" fill="#777"/>
<rect x="173.9" y="22.2" width="1.4" height="1.1" fill="#8f8f8f"/>
<rect x="167.4" y="27.5" width="2.3" height="0.8" fill="#5c5c5c"/>
<rect x="169.4" y="7.6" width="3.2" height="0.6" fill="#c9c9c9"/>
<rect x="173.4" y="35.5" width="1.8" height="0.9" fill="#777"/>
<rect x="169.2" y="13.3" width="2.7" height="1.0" fill="#8f8f8f"/>
<rect x="170.0" y="34.7" width="2.4" height="0.7" fill="#777"/>
<rect x="167.3" y="11.9" width="2.5" height="0.9" fill="#5c5c5c"/>
<rect x="172.2" y="21.0" width="0.9" height="1.1" fill="#5c5c5c"/>
<rect x="170.0" y="6.7" width="2.6" height="1.2" fill="#c9c9c9"/>
<rect x="169.8" y="20.6" width="3.1" height="0.9" fill="#c9c9c9"/>
<rect x="5.5" y="37.0" width="1.8" height="1.2" fill="#e6e6e6"/>
<rect x="7.6" y="10.1" width="0.9" height="0.7" fill="#e6e6e6"/>
<rect x="3.5" y="29.3" width="1.7" height="1.0" fill="#c9c9c9"/>
<rect x="5.1" y="11.3" width="1.2" height="0.6" fill="#e6e6e6"/>
<rect x="5.9" y="36.4" width="3.1" height="0.7" fill="#c9c9c9"/>
<rect x="8.0" y="6.7" width="3.0" height="0.8" fill="#777"/>
<rect x="8.6" y="20.1" width="3.0" height="1.0" fill="#c9c9c9"/>
<rect x="6.8" y="38.4" width="2.3" height="1.0" fill="#c9c9c9"/>
<rect x="8.0" y="12.1" width="1.3" height="0.9" fill="#777"/>
<rect x="3.9" y="19.0" width="1.2" height="1.3" fill="#c9c9c9"/>
<rect x="3.2" y="26.9" width="2.6" height="0.6" fill="#5c5c5c"/>
<rect x="3.7" y="28.4" width="2.1" height="1.0" fill="#5c5c5c"/>
<rect x="6.9" y="17.0" width="1.4" height="0.9" fill="#5c5c5c"/>
<rect x="5.7" y="22.1" width="0.9" height="1.0" fill="#e6e6e6"/>
<rect x="10" y="3.3" width="155.6" height="38.8" fill="#0b0b0c"/>
<rect x="161.7" y="9.5" width="3" height="30.5" fill="#4b4b4d"/>
<circle cx="170.4" cy="46.3" r="1.6" fill="#f2f2f2"/>
<text x="15.6" y="13.9" font-size="5" fill="#b9b9b9" textLength="30.7" lengthAdjust="spacingAndGlyphs">V-NAND SSD</text>
<text x="15" y="24.5" font-size="10.8" font-weight="bold" fill="#fff" textLength="40" lengthAdjust="spacingAndGlyphs">990<tspan fill="#e3312d" dx="1">PRO</tspan></text>
<text x="15.6" y="31.4" font-size="3.4" fill="#b0b0b0" textLength="39.4" lengthAdjust="spacingAndGlyphs">PCIe 4.0 NVMe M.2 SSD</text>
<text x="15.6" y="35" font-size="2.2" fill="#8d8d8d" textLength="25" lengthAdjust="spacingAndGlyphs">MZ-V9P1T0 Rev.0</text>
<text x="15.6" y="38.8" font-size="3" fill="#9a9a9a" textLength="38.5" lengthAdjust="spacingAndGlyphs">SAMSUNG ELECTRONICS CO., LTD.</text>
<text x="62.7" y="38.5" font-size="6.3" font-weight="bold" fill="#e9e9e9" textLength="13" lengthAdjust="spacingAndGlyphs">1TB</text>
<text x="130.1" y="15.1" font-size="6.9" font-weight="bold" fill="#e4e4e4" textLength="28.2" lengthAdjust="spacingAndGlyphs">SAMSUNG</text>
</g>
<text x="1229.7" y="1308.6" font-size="43" fill="#000" font-weight="bold" font-style="normal" textLength="279.6" lengthAdjust="spacingAndGlyphs" >prdxcpsrv001</text>
<rect x="1222.8" y="1350.2" width="142.0" height="134.3" rx="11" fill="#fff" stroke="#000" stroke-width="4"/>
<text x="1251.2" y="1412.6" font-size="43" fill="#000" font-weight="normal" font-style="normal" textLength="84.2" lengthAdjust="spacingAndGlyphs" >eth0</text>
<text x="1258.5" y="1473.1" font-size="43" fill="#000" font-weight="normal" font-style="italic" textLength="71.3" lengthAdjust="spacingAndGlyphs" >(1G)</text>
<rect x="1372.7" y="1350.2" width="142.0" height="134.3" rx="11" fill="#fff" stroke="#000" stroke-width="4"/>
<text x="1407.2" y="1412.6" font-size="43" fill="#000" font-weight="normal" font-style="normal" textLength="72.1" lengthAdjust="spacingAndGlyphs" >eth1</text>
<text x="1395.6" y="1473.1" font-size="43" fill="#000" font-weight="normal" font-style="italic" textLength="97.0" lengthAdjust="spacingAndGlyphs" >(10G)</text>
<g transform="translate(2013.8,1144.6)">
<rect x="0" y="0" width="482" height="91.3" rx="5" fill="#1e1f25"/>
<rect x="110" y="0" width="190" height="3" fill="#0a0a0b"/><rect x="110" y="88.3" width="190" height="3" fill="#0a0a0b"/>
<rect x="50.5" y="90" width="45.5" height="5.6" rx="2.2" fill="#0d0d0f"/><rect x="386" y="90" width="45.5" height="5.6" rx="2.2" fill="#0d0d0f"/>
<rect x="300" y="1.2" width="180.8" height="88.9" rx="4" fill="url(#holes)"/>
<polygon points="480.5,3 487,-3 488,97 480.5,89" fill="url(#edge)"/>
<rect x="272.5" y="0" width="14" height="3" fill="#e23b2e"/><rect x="272.5" y="88.6" width="14" height="2.7" fill="#e23b2e"/>
<circle cx="39" cy="62.7" r="16.6" fill="#060607"/><circle cx="39" cy="62.7" r="16.6" fill="none" stroke="#34353c" stroke-width="1"/>
<path d="M28.5,69 A12.5,12.5 0 0 0 51.5,66 C46,64 36,64 28.5,69 Z" fill="#b9babd" opacity="0.85"/>
<circle cx="39" cy="61.6" r="2.6" fill="#3d3e44"/>
<circle cx="25" cy="44.3" r="2.4" fill="none" stroke="#e8e8e8" stroke-width="1.1"/>
<circle cx="78.3" cy="62.7" r="2.6" fill="none" stroke="#e8e8e8" stroke-width="1.3"/><circle cx="69" cy="62" r="1" fill="#08080a"/>
<rect x="94.3" y="53.2" width="26" height="17" rx="2.2" fill="#d7dbe3"/><rect x="95.6" y="54.5" width="23.4" height="14.4" rx="1.4" fill="#123a8a"/><rect x="96.89999999999999" y="56.3" width="20.8" height="5" fill="#3f8ff0"/>
<path d="M102.3,44.5 h7 m-2,-1.6 l2,1.6 l-2,1.6" fill="none" stroke="#d9d9d9" stroke-width="0.9"/>
<text x="375" y="31.7" font-size="25.5" font-weight="bold" fill="url(#silver)" textLength="70.6" lengthAdjust="spacingAndGlyphs">ThinkCentre</text>
<circle cx="390.4" cy="13.2" r="1.4" fill="#d8362b"/>
</g>
<rect x="2125.5" y="1148.8" width="256" height="85" rx="7" fill="#fff"/>
<g transform="translate(2156.5,1191.7)">
<circle r="29" fill="#c9cbe6"/><circle r="27.4" fill="#231f4e"/>
<path d="M-19.8,-18.9 L-12,-12 L-7,-4 L-4,4 L3,9 L9,20 L12.5,24.4 A27.4,27.4 0 0 1 -19.8,-18.9 Z" fill="#fff"/>
<path d="M-4.5,4.5 L9,8 L19.2,19.3 L10.5,22.3 Z" fill="url(#cloud)"/>
<ellipse cx="-10.5" cy="11.5" rx="3.6" ry="7.5" transform="rotate(38 -10.5 11.5)" fill="#f4eeb9" opacity="0.7"/>
<path d="M23,-28.5 C12,-27 1,-19 -6,-6 L-8,1 C-4,5 2,8 7,9 L12,4 C20,-6 24,-17 23,-28.5 Z" fill="#db2b2c"/>
<path d="M23,-28.5 C20,-28.3 17.5,-27.5 15,-26.3 C17.5,-24 20.5,-22.5 23.3,-21.8 C23.6,-24 23.4,-26.5 23,-28.5 Z" fill="#2a2460"/>
<path d="M-4.5,-8.5 C-8,-14 -11,-15.5 -11.8,-13 C-12.5,-10.5 -10,-8 -7.5,-6 Z" fill="#d42627"/>
<path d="M10,5 C14,4 17,6 17,8.5 C16.5,10 13,9.5 9.5,8 Z" fill="#d42627"/>
<path d="M-8,1 C-4,5 2,8 7,9 L5,12 C0,11 -6,8 -9.5,4 Z" fill="#b71f22"/>
<circle cx="13.4" cy="-17.3" r="4" fill="#c9cbe6"/><circle cx="13.4" cy="-17.3" r="2.5" fill="#5862bf"/>
</g>
<text x="2199.1" y="1206.3" font-size="43" font-weight="bold" fill="#2b2a6c" textLength="168.5" lengthAdjust="spacingAndGlyphs">XCP-ng</text>
<g transform="translate(2162.4,1087.9)">
<rect x="0" y="0" width="183" height="50" rx="4.5" fill="#161617"/>
<rect x="175.5" y="3.5" width="7" height="43" rx="2" fill="#2a2618"/>
<rect x="176.3" y="4.6" width="6.2" height="3.3" rx="1.2" fill="#e2d194"/>
<rect x="176.3" y="9.2" width="6.2" height="3.3" rx="1.2" fill="#e2d194"/>
<rect x="176.3" y="13.8" width="6.2" height="3.3" rx="1.2" fill="#e2d194"/>
<rect x="176.3" y="18.4" width="6.2" height="3.3" rx="1.2" fill="#e2d194"/>
<rect x="176.3" y="23.0" width="6.2" height="3.3" rx="1.2" fill="#e2d194"/>
<rect x="176.3" y="27.6" width="6.2" height="3.3" rx="1.2" fill="#e2d194"/>
<rect x="176.3" y="32.2" width="6.2" height="3.3" rx="1.2" fill="#e2d194"/>
<rect x="176.3" y="36.8" width="6.2" height="3.3" rx="1.2" fill="#e2d194"/>
<rect x="176.3" y="41.4" width="6.2" height="3.3" rx="1.2" fill="#e2d194"/>
<path d="M0,19 A6,6 0 0 1 0,31 Z" fill="#e9dcae"/><rect x="1.2" y="7.5" width="2.6" height="2.6" fill="#cdb46a"/>
<rect x="63.8" y="2.2" width="2.4" height="0.7" fill="#777"/>
<rect x="27.1" y="3.9" width="3.0" height="0.8" fill="#8f8f8f"/>
<rect x="81.4" y="1.9" width="1.0" height="0.9" fill="#777"/>
<rect x="31.8" y="2.5" width="2.3" height="1.3" fill="#777"/>
<rect x="105.7" y="1.8" width="1.3" height="1.0" fill="#c9c9c9"/>
<rect x="58.3" y="2.2" width="1.1" height="0.8" fill="#c9c9c9"/>
<rect x="28.5" y="3.8" width="1.3" height="0.7" fill="#8f8f8f"/>
<rect x="102.3" y="4.0" width="2.0" height="1.0" fill="#5c5c5c"/>
<rect x="86.5" y="5.2" width="1.7" height="0.8" fill="#c9c9c9"/>
<rect x="123.8" y="2.6" width="2.2" height="1.0" fill="#5c5c5c"/>
<rect x="128.7" y="2.7" width="3.2" height="0.7" fill="#e6e6e6"/>
<rect x="38.4" y="2.9" width="3.0" height="0.9" fill="#8f8f8f"/>
<rect x="134.3" y="3.8" width="2.9" height="0.8" fill="#5c5c5c"/>
<rect x="107.1" y="3.9" width="1.9" height="1.2" fill="#5c5c5c"/>
<rect x="87.9" y="4.2" width="0.9" height="1.1" fill="#777"/>
<rect x="170.9" y="4.8" width="1.5" height="0.9" fill="#5c5c5c"/>
<rect x="15.6" y="3.4" width="1.2" height="0.7" fill="#8f8f8f"/>
<rect x="46.9" y="2.7" width="2.6" height="0.9" fill="#e6e6e6"/>
<rect x="24.9" y="3.4" width="2.1" height="1.2" fill="#e6e6e6"/>
<rect x="150.2" y="2.7" width="1.8" height="0.9" fill="#e6e6e6"/>
<rect x="165.2" y="2.2" width="1.2" height="0.8" fill="#c9c9c9"/>
<rect x="13.9" y="4.8" width="1.2" height="0.8" fill="#c9c9c9"/>
<rect x="79.0" y="3.0" width="2.2" height="1.3" fill="#777"/>
<rect x="164.0" y="4.2" width="2.6" height="0.9" fill="#777"/>
<rect x="74.8" y="3.2" width="1.0" height="1.0" fill="#8f8f8f"/>
<rect x="42.5" y="5.4" width="1.9" height="0.7" fill="#777"/>
<rect x="20.4" y="1.6" width="1.2" height="0.7" fill="#5c5c5c"/>
<rect x="110.2" y="1.9" width="1.3" height="0.9" fill="#5c5c5c"/>
<rect x="164.9" y="3.9" width="1.9" height="0.7" fill="#e6e6e6"/>
<rect x="170.9" y="3.4" width="2.0" height="0.7" fill="#8f8f8f"/>
<rect x="131.9" y="4.5" width="1.9" height="1.1" fill="#777"/>
<rect x="15.7" y="5.3" width="2.1" height="0.7" fill="#777"/>
<rect x="158.3" y="4.6" width="1.5" height="1.1" fill="#8f8f8f"/>
<rect x="123.4" y="2.6" width="1.7" height="0.7" fill="#c9c9c9"/>
<rect x="97.2" y="4.6" width="1.6" height="0.8" fill="#c9c9c9"/>
<rect x="141.0" y="4.8" width="2.6" height="0.8" fill="#777"/>
<rect x="90.8" y="4.5" width="3.2" height="1.2" fill="#e6e6e6"/>
<rect x="53.5" y="4.3" width="3.1" height="0.9" fill="#5c5c5c"/>
<rect x="164.8" y="3.0" width="1.3" height="0.8" fill="#c9c9c9"/>
<rect x="66.0" y="3.5" width="3.2" height="1.0" fill="#8f8f8f"/>
<rect x="88.7" y="4.1" width="2.7" height="0.7" fill="#8f8f8f"/>
<rect x="157.6" y="4.7" width="2.6" height="0.9" fill="#c9c9c9"/>
<rect x="81.4" y="4.1" width="1.0" height="1.3" fill="#e6e6e6"/>
<rect x="86.1" y="4.5" width="1.0" height="0.7" fill="#c9c9c9"/>
<rect x="16.4" y="3.9" width="1.9" height="1.1" fill="#777"/>
<rect x="144.2" y="5.4" width="2.4" height="0.8" fill="#777"/>
<rect x="99.7" y="1.7" width="2.7" height="1.1" fill="#8f8f8f"/>
<rect x="96.3" y="5.2" width="1.8" height="1.2" fill="#c9c9c9"/>
<rect x="16.5" y="2.4" width="2.0" height="1.1" fill="#5c5c5c"/>
<rect x="53.5" y="3.2" width="1.1" height="1.2" fill="#5c5c5c"/>
<rect x="155.6" y="4.2" width="2.8" height="1.0" fill="#777"/>
<rect x="32.9" y="2.2" width="2.0" height="1.2" fill="#c9c9c9"/>
<rect x="109.4" y="4.6" width="1.2" height="0.7" fill="#777"/>
<rect x="128.0" y="3.8" width="1.6" height="1.0" fill="#777"/>
<rect x="89.2" y="4.6" width="2.9" height="0.6" fill="#c9c9c9"/>
<rect x="56.3" y="4.6" width="2.0" height="1.0" fill="#8f8f8f"/>
<rect x="82.9" y="4.0" width="2.0" height="1.0" fill="#5c5c5c"/>
<rect x="84.4" y="3.7" width="1.9" height="1.3" fill="#777"/>
<rect x="152.2" y="5.3" width="1.4" height="1.0" fill="#c9c9c9"/>
<rect x="146.4" y="2.1" width="1.1" height="0.9" fill="#8f8f8f"/>
<rect x="119.4" y="3.3" width="1.3" height="0.8" fill="#8f8f8f"/>
<rect x="155.5" y="2.2" width="2.5" height="1.1" fill="#c9c9c9"/>
<rect x="52.5" y="2.1" width="1.9" height="1.1" fill="#8f8f8f"/>
<rect x="75.7" y="3.5" width="3.2" height="1.2" fill="#c9c9c9"/>
<rect x="125.0" y="5.5" width="1.8" height="0.9" fill="#5c5c5c"/>
<rect x="63.0" y="4.4" width="0.8" height="1.0" fill="#e6e6e6"/>
<rect x="124.5" y="3.1" width="2.0" height="0.8" fill="#8f8f8f"/>
<rect x="30.1" y="5.2" width="1.3" height="1.2" fill="#8f8f8f"/>
<rect x="54.5" y="1.8" width="2.7" height="0.8" fill="#c9c9c9"/>
<rect x="143.2" y="4.9" width="2.4" height="1.3" fill="#e6e6e6"/>
<rect x="29.1" y="47.8" width="2.2" height="1.1" fill="#8f8f8f"/>
<rect x="50.9" y="47.1" width="1.2" height="1.2" fill="#5c5c5c"/>
<rect x="161.6" y="46.2" width="2.7" height="0.7" fill="#c9c9c9"/>
<rect x="15.2" y="47.5" width="1.9" height="0.8" fill="#777"/>
<rect x="74.2" y="47.7" width="2.3" height="0.6" fill="#c9c9c9"/>
<rect x="161.6" y="48.0" width="1.4" height="0.7" fill="#5c5c5c"/>
<rect x="109.6" y="45.7" width="1.3" height="0.9" fill="#c9c9c9"/>
<rect x="49.4" y="47.1" width="3.2" height="0.6" fill="#8f8f8f"/>
<rect x="127.2" y="45.8" width="1.3" height="0.9" fill="#e6e6e6"/>
<rect x="21.9" y="47.2" width="1.8" height="0.9" fill="#e6e6e6"/>
<rect x="167.0" y="44.5" width="1.3" height="0.8" fill="#c9c9c9"/>
<rect x="143.8" y="46.6" width="2.3" height="0.9" fill="#5c5c5c"/>
<rect x="169.0" y="47.3" width="0.8" height="1.0" fill="#5c5c5c"/>
<rect x="76.4" y="43.1" width="2.4" height="0.9" fill="#777"/>
<rect x="116.7" y="44.3" width="1.4" height="0.8" fill="#e6e6e6"/>
<rect x="35.1" y="44.3" width="0.8" height="0.9" fill="#5c5c5c"/>
<rect x="167.4" y="45.8" width="1.4" height="1.3" fill="#5c5c5c"/>
<rect x="40.6" y="43.8" width="1.6" height="0.7" fill="#5c5c5c"/>
<rect x="88.5" y="43.9" width="2.0" height="0.6" fill="#5c5c5c"/>
<rect x="141.3" y="43.6" width="2.2" height="0.9" fill="#5c5c5c"/>
<rect x="55.1" y="44.1" width="2.2" height="1.0" fill="#c9c9c9"/>
<rect x="114.5" y="46.7" width="2.9" height="0.9" fill="#5c5c5c"/>
<rect x="125.1" y="45.5" width="1.5" height="1.0" fill="#c9c9c9"/>
<rect x="11.4" y="47.3" width="2.9" height="1.0" fill="#777"/>
<rect x="27.4" y="45.6" width="2.0" height="1.2" fill="#8f8f8f"/>
<rect x="142.8" y="46.0" width="2.9" height="1.1" fill="#c9c9c9"/>
<rect x="18.3" y="43.0" width="2.3" height="1.3" fill="#e6e6e6"/>
<rect x="144.4" y="45.8" width="2.3" height="1.0" fill="#c9c9c9"/>
<rect x="86.2" y="42.8" width="2.7" height="1.1" fill="#777"/>
<rect x="154.8" y="43.3" width="2.1" height="1.1" fill="#e6e6e6"/>
<rect x="46.4" y="43.2" width="1.4" height="1.1" fill="#c9c9c9"/>
<rect x="42.8" y="46.3" width="1.9" height="1.2" fill="#8f8f8f"/>
<rect x="84.5" y="46.5" width="2.6" height="1.0" fill="#c9c9c9"/>
<rect x="17.0" y="43.6" width="1.4" height="1.1" fill="#5c5c5c"/>
<rect x="108.4" y="43.5" width="2.0" height="0.9" fill="#8f8f8f"/>
<rect x="120.3" y="46.4" width="1.5" height="1.0" fill="#e6e6e6"/>
<rect x="82.3" y="46.9" width="3.2" height="1.0" fill="#5c5c5c"/>
<rect x="168.3" y="47.9" width="0.8" height="0.9" fill="#777"/>
<rect x="166.6" y="45.2" width="1.4" height="0.7" fill="#c9c9c9"/>
<rect x="16.5" y="43.3" width="2.6" height="0.8" fill="#5c5c5c"/>
<rect x="26.3" y="47.2" width="2.0" height="1.2" fill="#5c5c5c"/>
<rect x="42.9" y="47.6" width="2.0" height="0.6" fill="#8f8f8f"/>
<rect x="163.6" y="46.5" width="1.8" height="1.1" fill="#e6e6e6"/>
<rect x="61.8" y="44.5" width="2.8" height="0.6" fill="#5c5c5c"/>
<rect x="145.0" y="43.4" width="3.0" height="1.1" fill="#5c5c5c"/>
<rect x="46.5" y="43.2" width="1.7" height="1.2" fill="#8f8f8f"/>
<rect x="64.6" y="45.1" width="1.5" height="0.6" fill="#8f8f8f"/>
<rect x="12.7" y="46.4" width="2.3" height="0.7" fill="#5c5c5c"/>
<rect x="77.3" y="44.5" width="2.7" height="1.1" fill="#e6e6e6"/>
<rect x="152.6" y="47.2" width="2.3" height="1.2" fill="#777"/>
<rect x="96.3" y="46.7" width="0.9" height="1.1" fill="#e6e6e6"/>
<rect x="107.3" y="43.5" width="2.9" height="0.9" fill="#777"/>
<rect x="25.4" y="45.3" width="1.6" height="0.8" fill="#5c5c5c"/>
<rect x="72.2" y="44.1" width="2.0" height="1.1" fill="#8f8f8f"/>
<rect x="32.1" y="43.7" width="1.3" height="1.2" fill="#e6e6e6"/>
<rect x="96.5" y="45.2" width="1.6" height="1.1" fill="#e6e6e6"/>
<rect x="27.5" y="43.8" width="1.0" height="0.8" fill="#8f8f8f"/>
<rect x="57.6" y="44.8" width="2.7" height="0.7" fill="#8f8f8f"/>
<rect x="129.9" y="45.0" width="1.8" height="1.0" fill="#e6e6e6"/>
<rect x="49.4" y="46.9" width="2.0" height="1.0" fill="#5c5c5c"/>
<rect x="25.1" y="45.5" width="2.3" height="1.2" fill="#c9c9c9"/>
<rect x="19.6" y="47.6" width="1.7" height="1.1" fill="#e6e6e6"/>
<rect x="164.3" y="47.4" width="2.9" height="0.6" fill="#8f8f8f"/>
<rect x="75.4" y="46.9" width="2.7" height="1.3" fill="#e6e6e6"/>
<rect x="4.0" y="44.9" width="3.0" height="1.2" fill="#e6e6e6"/>
<rect x="167.3" y="44.1" width="1.1" height="0.7" fill="#777"/>
<rect x="167.3" y="43.4" width="2.8" height="1.1" fill="#e6e6e6"/>
<rect x="18.3" y="47.0" width="0.8" height="0.7" fill="#777"/>
<rect x="158.5" y="46.3" width="1.5" height="0.7" fill="#5c5c5c"/>
<rect x="92.7" y="45.2" width="2.6" height="0.7" fill="#5c5c5c"/>
<rect x="92.1" y="45.9" width="1.7" height="0.8" fill="#777"/>
<rect x="4.2" y="45.7" width="3.2" height="0.8" fill="#5c5c5c"/>
<rect x="112.3" y="47.6" width="1.9" height="0.8" fill="#c9c9c9"/>
<rect x="8.9" y="45.0" width="2.4" height="0.6" fill="#c9c9c9"/>
<rect x="87.7" y="46.4" width="1.8" height="0.8" fill="#e6e6e6"/>
<rect x="159.4" y="44.0" width="0.9" height="0.8" fill="#e6e6e6"/>
<rect x="64.9" y="44.9" width="0.8" height="0.8" fill="#777"/>
<rect x="15.3" y="45.5" width="1.3" height="1.1" fill="#c9c9c9"/>
<rect x="42.8" y="44.0" width="2.6" height="0.8" fill="#777"/>
<rect x="87.3" y="43.8" width="1.3" height="0.9" fill="#8f8f8f"/>
<rect x="174.6" y="11.3" width="1.7" height="0.7" fill="#777"/>
<rect x="167.7" y="7.9" width="0.9" height="0.9" fill="#5c5c5c"/>
<rect x="172.7" y="41.9" width="3.0" height="0.8" fill="#c9c9c9"/>
<rect x="172.0" y="24.9" width="1.9" height="0.8" fill="#e6e6e6"/>
<rect x="173.6" y="41.5" width="1.9" height="0.7" fill="#8f8f8f"/>
<rect x="168.9" y="18.7" width="3.1" height="0.7" fill="#c9c9c9"/>
<rect x="169.7" y="33.7" width="1.5" height="1.2" fill="#8f8f8f"/>
<rect x="166.9" y="23.0" width="1.7" height="1.2" fill="#c9c9c9"/>
<rect x="169.2" y="32.5" width="1.9" height="1.0" fill="#c9c9c9"/>
<rect x="173.4" y="33.6" width="0.9" height="0.6" fill="#8f8f8f"/>
<rect x="173.3" y="8.2" width="1.3" height="0.6" fill="#777"/>
<rect x="169.4" y="15.8" width="3.1" height="1.0" fill="#5c5c5c"/>
<rect x="172.8" y="30.8" width="3.0" height="0.8" fill="#777"/>
<rect x="174.3" y="28.8" width="3.1" height="0.6" fill="#c9c9c9"/>
<rect x="167.4" y="31.8" width="1.9" height="1.1" fill="#5c5c5c"/>
<rect x="174.3" y="35.3" width="1.1" height="0.9" fill="#8f8f8f"/>
<rect x="173.3" y="32.6" width="2.8" height="1.1" fill="#777"/>
<rect x="168.5" y="37.0" width="1.9" height="1.1" fill="#777"/>
<rect x="167.2" y="13.1" width="2.6" height="0.8" fill="#8f8f8f"/>
<rect x="172.0" y="23.3" width="2.1" height="0.7" fill="#e6e6e6"/>
<rect x="174.0" y="41.6" width="1.4" height="0.7" fill="#8f8f8f"/>
<rect x="170.1" y="41.6" width="3.1" height="0.7" fill="#c9c9c9"/>
<rect x="170.0" y="28.3" width="2.4" height="1.1" fill="#8f8f8f"/>
<rect x="173.1" y="16.6" width="1.5" height="0.8" fill="#5c5c5c"/>
<rect x="172.8" y="13.2" width="1.4" height="0.8" fill="#c9c9c9"/>
<rect x="168.9" y="38.7" width="1.3" height="0.6" fill="#5c5c5c"/>
<rect x="174.9" y="24.3" width="1.4" height="1.2" fill="#e6e6e6"/>
<rect x="174.9" y="9.7" width="1.9" height="1.2" fill="#e6e6e6"/>
<rect x="174.3" y="7.5" width="1.5" height="0.7" fill="#c9c9c9"/>
<rect x="171.6" y="35.8" width="1.3" height="0.7" fill="#777"/>
<rect x="173.9" y="22.2" width="1.4" height="1.1" fill="#8f8f8f"/>
<rect x="167.4" y="27.5" width="2.3" height="0.8" fill="#5c5c5c"/>
<rect x="169.4" y="7.6" width="3.2" height="0.6" fill="#c9c9c9"/>
<rect x="173.4" y="35.5" width="1.8" height="0.9" fill="#777"/>
<rect x="169.2" y="13.3" width="2.7" height="1.0" fill="#8f8f8f"/>
<rect x="170.0" y="34.7" width="2.4" height="0.7" fill="#777"/>
<rect x="167.3" y="11.9" width="2.5" height="0.9" fill="#5c5c5c"/>
<rect x="172.2" y="21.0" width="0.9" height="1.1" fill="#5c5c5c"/>
<rect x="170.0" y="6.7" width="2.6" height="1.2" fill="#c9c9c9"/>
<rect x="169.8" y="20.6" width="3.1" height="0.9" fill="#c9c9c9"/>
<rect x="5.5" y="37.0" width="1.8" height="1.2" fill="#e6e6e6"/>
<rect x="7.6" y="10.1" width="0.9" height="0.7" fill="#e6e6e6"/>
<rect x="3.5" y="29.3" width="1.7" height="1.0" fill="#c9c9c9"/>
<rect x="5.1" y="11.3" width="1.2" height="0.6" fill="#e6e6e6"/>
<rect x="5.9" y="36.4" width="3.1" height="0.7" fill="#c9c9c9"/>
<rect x="8.0" y="6.7" width="3.0" height="0.8" fill="#777"/>
<rect x="8.6" y="20.1" width="3.0" height="1.0" fill="#c9c9c9"/>
<rect x="6.8" y="38.4" width="2.3" height="1.0" fill="#c9c9c9"/>
<rect x="8.0" y="12.1" width="1.3" height="0.9" fill="#777"/>
<rect x="3.9" y="19.0" width="1.2" height="1.3" fill="#c9c9c9"/>
<rect x="3.2" y="26.9" width="2.6" height="0.6" fill="#5c5c5c"/>
<rect x="3.7" y="28.4" width="2.1" height="1.0" fill="#5c5c5c"/>
<rect x="6.9" y="17.0" width="1.4" height="0.9" fill="#5c5c5c"/>
<rect x="5.7" y="22.1" width="0.9" height="1.0" fill="#e6e6e6"/>
<rect x="10" y="3.3" width="155.6" height="38.8" fill="#0b0b0c"/>
<rect x="161.7" y="9.5" width="3" height="30.5" fill="#4b4b4d"/>
<circle cx="170.4" cy="46.3" r="1.6" fill="#f2f2f2"/>
<text x="15.6" y="13.9" font-size="5" fill="#b9b9b9" textLength="30.7" lengthAdjust="spacingAndGlyphs">V-NAND SSD</text>
<text x="15" y="24.5" font-size="10.8" font-weight="bold" fill="#fff" textLength="40" lengthAdjust="spacingAndGlyphs">990<tspan fill="#e3312d" dx="1">PRO</tspan></text>
<text x="15.6" y="31.4" font-size="3.4" fill="#b0b0b0" textLength="39.4" lengthAdjust="spacingAndGlyphs">PCIe 4.0 NVMe M.2 SSD</text>
<text x="15.6" y="35" font-size="2.2" fill="#8d8d8d" textLength="25" lengthAdjust="spacingAndGlyphs">MZ-V9P1T0 Rev.0</text>
<text x="15.6" y="38.8" font-size="3" fill="#9a9a9a" textLength="38.5" lengthAdjust="spacingAndGlyphs">SAMSUNG ELECTRONICS CO., LTD.</text>
<text x="62.7" y="38.5" font-size="6.3" font-weight="bold" fill="#e9e9e9" textLength="13" lengthAdjust="spacingAndGlyphs">1TB</text>
<text x="130.1" y="15.1" font-size="6.9" font-weight="bold" fill="#e4e4e4" textLength="28.2" lengthAdjust="spacingAndGlyphs">SAMSUNG</text>
</g>
<text x="2124.8" y="1308.6" font-size="43" fill="#000" font-weight="bold" font-style="normal" textLength="288.3" lengthAdjust="spacingAndGlyphs" >prdxcpsrv002</text>
<rect x="2126.1" y="1350.2" width="141.1" height="134.3" rx="11" fill="#fff" stroke="#000" stroke-width="4"/>
<text x="2154.1" y="1412.6" font-size="43" fill="#000" font-weight="normal" font-style="normal" textLength="84.2" lengthAdjust="spacingAndGlyphs" >eth0</text>
<text x="2161.4" y="1473.1" font-size="43" fill="#000" font-weight="normal" font-style="italic" textLength="71.3" lengthAdjust="spacingAndGlyphs" >(1G)</text>
<rect x="2276.3" y="1350.2" width="141.1" height="134.3" rx="11" fill="#fff" stroke="#000" stroke-width="4"/>
<text x="2310.3" y="1412.6" font-size="43" fill="#000" font-weight="normal" font-style="normal" textLength="72.1" lengthAdjust="spacingAndGlyphs" >eth1</text>
<text x="2298.8" y="1473.1" font-size="43" fill="#000" font-weight="normal" font-style="italic" textLength="97.0" lengthAdjust="spacingAndGlyphs" >(10G)</text>
<g transform="translate(2876.1,1145.2)">
<rect x="0" y="0" width="482" height="91.3" rx="5" fill="#1e1f25"/>
<rect x="110" y="0" width="190" height="3" fill="#0a0a0b"/><rect x="110" y="88.3" width="190" height="3" fill="#0a0a0b"/>
<rect x="50.5" y="90" width="45.5" height="5.6" rx="2.2" fill="#0d0d0f"/><rect x="386" y="90" width="45.5" height="5.6" rx="2.2" fill="#0d0d0f"/>
<rect x="300" y="1.2" width="180.8" height="88.9" rx="4" fill="url(#holes)"/>
<polygon points="480.5,3 487,-3 488,97 480.5,89" fill="url(#edge)"/>
<rect x="272.5" y="0" width="14" height="3" fill="#e23b2e"/><rect x="272.5" y="88.6" width="14" height="2.7" fill="#e23b2e"/>
<circle cx="39" cy="62.7" r="16.6" fill="#060607"/><circle cx="39" cy="62.7" r="16.6" fill="none" stroke="#34353c" stroke-width="1"/>
<path d="M28.5,69 A12.5,12.5 0 0 0 51.5,66 C46,64 36,64 28.5,69 Z" fill="#b9babd" opacity="0.85"/>
<circle cx="39" cy="61.6" r="2.6" fill="#3d3e44"/>
<circle cx="25" cy="44.3" r="2.4" fill="none" stroke="#e8e8e8" stroke-width="1.1"/>
<circle cx="78.3" cy="62.7" r="2.6" fill="none" stroke="#e8e8e8" stroke-width="1.3"/><circle cx="69" cy="62" r="1" fill="#08080a"/>
<rect x="97.3" y="53.2" width="26" height="17" rx="2.2" fill="#d7dbe3"/><rect x="98.6" y="54.5" width="23.4" height="14.4" rx="1.4" fill="#123a8a"/><rect x="99.89999999999999" y="56.3" width="20.8" height="5" fill="#3f8ff0"/>
<path d="M105.3,44.5 h7 m-2,-1.6 l2,1.6 l-2,1.6" fill="none" stroke="#d9d9d9" stroke-width="0.9"/>
<text x="375" y="31.7" font-size="25.5" font-weight="bold" fill="url(#silver)" textLength="70.6" lengthAdjust="spacingAndGlyphs">ThinkCentre</text>
<circle cx="390.4" cy="13.2" r="1.4" fill="#d8362b"/>
</g>
<rect x="3001.7" y="1148.8" width="256" height="85" rx="7" fill="#fff"/>
<g transform="translate(3032.7,1191.7)">
<circle r="29" fill="#c9cbe6"/><circle r="27.4" fill="#231f4e"/>
<path d="M-19.8,-18.9 L-12,-12 L-7,-4 L-4,4 L3,9 L9,20 L12.5,24.4 A27.4,27.4 0 0 1 -19.8,-18.9 Z" fill="#fff"/>
<path d="M-4.5,4.5 L9,8 L19.2,19.3 L10.5,22.3 Z" fill="url(#cloud)"/>
<ellipse cx="-10.5" cy="11.5" rx="3.6" ry="7.5" transform="rotate(38 -10.5 11.5)" fill="#f4eeb9" opacity="0.7"/>
<path d="M23,-28.5 C12,-27 1,-19 -6,-6 L-8,1 C-4,5 2,8 7,9 L12,4 C20,-6 24,-17 23,-28.5 Z" fill="#db2b2c"/>
<path d="M23,-28.5 C20,-28.3 17.5,-27.5 15,-26.3 C17.5,-24 20.5,-22.5 23.3,-21.8 C23.6,-24 23.4,-26.5 23,-28.5 Z" fill="#2a2460"/>
<path d="M-4.5,-8.5 C-8,-14 -11,-15.5 -11.8,-13 C-12.5,-10.5 -10,-8 -7.5,-6 Z" fill="#d42627"/>
<path d="M10,5 C14,4 17,6 17,8.5 C16.5,10 13,9.5 9.5,8 Z" fill="#d42627"/>
<path d="M-8,1 C-4,5 2,8 7,9 L5,12 C0,11 -6,8 -9.5,4 Z" fill="#b71f22"/>
<circle cx="13.4" cy="-17.3" r="4" fill="#c9cbe6"/><circle cx="13.4" cy="-17.3" r="2.5" fill="#5862bf"/>
</g>
<text x="3075.3" y="1206.3" font-size="43" font-weight="bold" fill="#2b2a6c" textLength="168.5" lengthAdjust="spacingAndGlyphs">XCP-ng</text>
<g transform="translate(3039.7,1087.9)">
<rect x="0" y="0" width="183" height="50" rx="4.5" fill="#161617"/>
<rect x="175.5" y="3.5" width="7" height="43" rx="2" fill="#2a2618"/>
<rect x="176.3" y="4.6" width="6.2" height="3.3" rx="1.2" fill="#e2d194"/>
<rect x="176.3" y="9.2" width="6.2" height="3.3" rx="1.2" fill="#e2d194"/>
<rect x="176.3" y="13.8" width="6.2" height="3.3" rx="1.2" fill="#e2d194"/>
<rect x="176.3" y="18.4" width="6.2" height="3.3" rx="1.2" fill="#e2d194"/>
<rect x="176.3" y="23.0" width="6.2" height="3.3" rx="1.2" fill="#e2d194"/>
<rect x="176.3" y="27.6" width="6.2" height="3.3" rx="1.2" fill="#e2d194"/>
<rect x="176.3" y="32.2" width="6.2" height="3.3" rx="1.2" fill="#e2d194"/>
<rect x="176.3" y="36.8" width="6.2" height="3.3" rx="1.2" fill="#e2d194"/>
<rect x="176.3" y="41.4" width="6.2" height="3.3" rx="1.2" fill="#e2d194"/>
<path d="M0,19 A6,6 0 0 1 0,31 Z" fill="#e9dcae"/><rect x="1.2" y="7.5" width="2.6" height="2.6" fill="#cdb46a"/>
<rect x="63.8" y="2.2" width="2.4" height="0.7" fill="#777"/>
<rect x="27.1" y="3.9" width="3.0" height="0.8" fill="#8f8f8f"/>
<rect x="81.4" y="1.9" width="1.0" height="0.9" fill="#777"/>
<rect x="31.8" y="2.5" width="2.3" height="1.3" fill="#777"/>
<rect x="105.7" y="1.8" width="1.3" height="1.0" fill="#c9c9c9"/>
<rect x="58.3" y="2.2" width="1.1" height="0.8" fill="#c9c9c9"/>
<rect x="28.5" y="3.8" width="1.3" height="0.7" fill="#8f8f8f"/>
<rect x="102.3" y="4.0" width="2.0" height="1.0" fill="#5c5c5c"/>
<rect x="86.5" y="5.2" width="1.7" height="0.8" fill="#c9c9c9"/>
<rect x="123.8" y="2.6" width="2.2" height="1.0" fill="#5c5c5c"/>
<rect x="128.7" y="2.7" width="3.2" height="0.7" fill="#e6e6e6"/>
<rect x="38.4" y="2.9" width="3.0" height="0.9" fill="#8f8f8f"/>
<rect x="134.3" y="3.8" width="2.9" height="0.8" fill="#5c5c5c"/>
<rect x="107.1" y="3.9" width="1.9" height="1.2" fill="#5c5c5c"/>
<rect x="87.9" y="4.2" width="0.9" height="1.1" fill="#777"/>
<rect x="170.9" y="4.8" width="1.5" height="0.9" fill="#5c5c5c"/>
<rect x="15.6" y="3.4" width="1.2" height="0.7" fill="#8f8f8f"/>
<rect x="46.9" y="2.7" width="2.6" height="0.9" fill="#e6e6e6"/>
<rect x="24.9" y="3.4" width="2.1" height="1.2" fill="#e6e6e6"/>
<rect x="150.2" y="2.7" width="1.8" height="0.9" fill="#e6e6e6"/>
<rect x="165.2" y="2.2" width="1.2" height="0.8" fill="#c9c9c9"/>
<rect x="13.9" y="4.8" width="1.2" height="0.8" fill="#c9c9c9"/>
<rect x="79.0" y="3.0" width="2.2" height="1.3" fill="#777"/>
<rect x="164.0" y="4.2" width="2.6" height="0.9" fill="#777"/>
<rect x="74.8" y="3.2" width="1.0" height="1.0" fill="#8f8f8f"/>
<rect x="42.5" y="5.4" width="1.9" height="0.7" fill="#777"/>
<rect x="20.4" y="1.6" width="1.2" height="0.7" fill="#5c5c5c"/>
<rect x="110.2" y="1.9" width="1.3" height="0.9" fill="#5c5c5c"/>
<rect x="164.9" y="3.9" width="1.9" height="0.7" fill="#e6e6e6"/>
<rect x="170.9" y="3.4" width="2.0" height="0.7" fill="#8f8f8f"/>
<rect x="131.9" y="4.5" width="1.9" height="1.1" fill="#777"/>
<rect x="15.7" y="5.3" width="2.1" height="0.7" fill="#777"/>
<rect x="158.3" y="4.6" width="1.5" height="1.1" fill="#8f8f8f"/>
<rect x="123.4" y="2.6" width="1.7" height="0.7" fill="#c9c9c9"/>
<rect x="97.2" y="4.6" width="1.6" height="0.8" fill="#c9c9c9"/>
<rect x="141.0" y="4.8" width="2.6" height="0.8" fill="#777"/>
<rect x="90.8" y="4.5" width="3.2" height="1.2" fill="#e6e6e6"/>
<rect x="53.5" y="4.3" width="3.1" height="0.9" fill="#5c5c5c"/>
<rect x="164.8" y="3.0" width="1.3" height="0.8" fill="#c9c9c9"/>
<rect x="66.0" y="3.5" width="3.2" height="1.0" fill="#8f8f8f"/>
<rect x="88.7" y="4.1" width="2.7" height="0.7" fill="#8f8f8f"/>
<rect x="157.6" y="4.7" width="2.6" height="0.9" fill="#c9c9c9"/>
<rect x="81.4" y="4.1" width="1.0" height="1.3" fill="#e6e6e6"/>
<rect x="86.1" y="4.5" width="1.0" height="0.7" fill="#c9c9c9"/>
<rect x="16.4" y="3.9" width="1.9" height="1.1" fill="#777"/>
<rect x="144.2" y="5.4" width="2.4" height="0.8" fill="#777"/>
<rect x="99.7" y="1.7" width="2.7" height="1.1" fill="#8f8f8f"/>
<rect x="96.3" y="5.2" width="1.8" height="1.2" fill="#c9c9c9"/>
<rect x="16.5" y="2.4" width="2.0" height="1.1" fill="#5c5c5c"/>
<rect x="53.5" y="3.2" width="1.1" height="1.2" fill="#5c5c5c"/>
<rect x="155.6" y="4.2" width="2.8" height="1.0" fill="#777"/>
<rect x="32.9" y="2.2" width="2.0" height="1.2" fill="#c9c9c9"/>
<rect x="109.4" y="4.6" width="1.2" height="0.7" fill="#777"/>
<rect x="128.0" y="3.8" width="1.6" height="1.0" fill="#777"/>
<rect x="89.2" y="4.6" width="2.9" height="0.6" fill="#c9c9c9"/>
<rect x="56.3" y="4.6" width="2.0" height="1.0" fill="#8f8f8f"/>
<rect x="82.9" y="4.0" width="2.0" height="1.0" fill="#5c5c5c"/>
<rect x="84.4" y="3.7" width="1.9" height="1.3" fill="#777"/>
<rect x="152.2" y="5.3" width="1.4" height="1.0" fill="#c9c9c9"/>
<rect x="146.4" y="2.1" width="1.1" height="0.9" fill="#8f8f8f"/>
<rect x="119.4" y="3.3" width="1.3" height="0.8" fill="#8f8f8f"/>
<rect x="155.5" y="2.2" width="2.5" height="1.1" fill="#c9c9c9"/>
<rect x="52.5" y="2.1" width="1.9" height="1.1" fill="#8f8f8f"/>
<rect x="75.7" y="3.5" width="3.2" height="1.2" fill="#c9c9c9"/>
<rect x="125.0" y="5.5" width="1.8" height="0.9" fill="#5c5c5c"/>
<rect x="63.0" y="4.4" width="0.8" height="1.0" fill="#e6e6e6"/>
<rect x="124.5" y="3.1" width="2.0" height="0.8" fill="#8f8f8f"/>
<rect x="30.1" y="5.2" width="1.3" height="1.2" fill="#8f8f8f"/>
<rect x="54.5" y="1.8" width="2.7" height="0.8" fill="#c9c9c9"/>
<rect x="143.2" y="4.9" width="2.4" height="1.3" fill="#e6e6e6"/>
<rect x="29.1" y="47.8" width="2.2" height="1.1" fill="#8f8f8f"/>
<rect x="50.9" y="47.1" width="1.2" height="1.2" fill="#5c5c5c"/>
<rect x="161.6" y="46.2" width="2.7" height="0.7" fill="#c9c9c9"/>
<rect x="15.2" y="47.5" width="1.9" height="0.8" fill="#777"/>
<rect x="74.2" y="47.7" width="2.3" height="0.6" fill="#c9c9c9"/>
<rect x="161.6" y="48.0" width="1.4" height="0.7" fill="#5c5c5c"/>
<rect x="109.6" y="45.7" width="1.3" height="0.9" fill="#c9c9c9"/>
<rect x="49.4" y="47.1" width="3.2" height="0.6" fill="#8f8f8f"/>
<rect x="127.2" y="45.8" width="1.3" height="0.9" fill="#e6e6e6"/>
<rect x="21.9" y="47.2" width="1.8" height="0.9" fill="#e6e6e6"/>
<rect x="167.0" y="44.5" width="1.3" height="0.8" fill="#c9c9c9"/>
<rect x="143.8" y="46.6" width="2.3" height="0.9" fill="#5c5c5c"/>
<rect x="169.0" y="47.3" width="0.8" height="1.0" fill="#5c5c5c"/>
<rect x="76.4" y="43.1" width="2.4" height="0.9" fill="#777"/>
<rect x="116.7" y="44.3" width="1.4" height="0.8" fill="#e6e6e6"/>
<rect x="35.1" y="44.3" width="0.8" height="0.9" fill="#5c5c5c"/>
<rect x="167.4" y="45.8" width="1.4" height="1.3" fill="#5c5c5c"/>
<rect x="40.6" y="43.8" width="1.6" height="0.7" fill="#5c5c5c"/>
<rect x="88.5" y="43.9" width="2.0" height="0.6" fill="#5c5c5c"/>
<rect x="141.3" y="43.6" width="2.2" height="0.9" fill="#5c5c5c"/>
<rect x="55.1" y="44.1" width="2.2" height="1.0" fill="#c9c9c9"/>
<rect x="114.5" y="46.7" width="2.9" height="0.9" fill="#5c5c5c"/>
<rect x="125.1" y="45.5" width="1.5" height="1.0" fill="#c9c9c9"/>
<rect x="11.4" y="47.3" width="2.9" height="1.0" fill="#777"/>
<rect x="27.4" y="45.6" width="2.0" height="1.2" fill="#8f8f8f"/>
<rect x="142.8" y="46.0" width="2.9" height="1.1" fill="#c9c9c9"/>
<rect x="18.3" y="43.0" width="2.3" height="1.3" fill="#e6e6e6"/>
<rect x="144.4" y="45.8" width="2.3" height="1.0" fill="#c9c9c9"/>
<rect x="86.2" y="42.8" width="2.7" height="1.1" fill="#777"/>
<rect x="154.8" y="43.3" width="2.1" height="1.1" fill="#e6e6e6"/>
<rect x="46.4" y="43.2" width="1.4" height="1.1" fill="#c9c9c9"/>
<rect x="42.8" y="46.3" width="1.9" height="1.2" fill="#8f8f8f"/>
<rect x="84.5" y="46.5" width="2.6" height="1.0" fill="#c9c9c9"/>
<rect x="17.0" y="43.6" width="1.4" height="1.1" fill="#5c5c5c"/>
<rect x="108.4" y="43.5" width="2.0" height="0.9" fill="#8f8f8f"/>
<rect x="120.3" y="46.4" width="1.5" height="1.0" fill="#e6e6e6"/>
<rect x="82.3" y="46.9" width="3.2" height="1.0" fill="#5c5c5c"/>
<rect x="168.3" y="47.9" width="0.8" height="0.9" fill="#777"/>
<rect x="166.6" y="45.2" width="1.4" height="0.7" fill="#c9c9c9"/>
<rect x="16.5" y="43.3" width="2.6" height="0.8" fill="#5c5c5c"/>
<rect x="26.3" y="47.2" width="2.0" height="1.2" fill="#5c5c5c"/>
<rect x="42.9" y="47.6" width="2.0" height="0.6" fill="#8f8f8f"/>
<rect x="163.6" y="46.5" width="1.8" height="1.1" fill="#e6e6e6"/>
<rect x="61.8" y="44.5" width="2.8" height="0.6" fill="#5c5c5c"/>
<rect x="145.0" y="43.4" width="3.0" height="1.1" fill="#5c5c5c"/>
<rect x="46.5" y="43.2" width="1.7" height="1.2" fill="#8f8f8f"/>
<rect x="64.6" y="45.1" width="1.5" height="0.6" fill="#8f8f8f"/>
<rect x="12.7" y="46.4" width="2.3" height="0.7" fill="#5c5c5c"/>
<rect x="77.3" y="44.5" width="2.7" height="1.1" fill="#e6e6e6"/>
<rect x="152.6" y="47.2" width="2.3" height="1.2" fill="#777"/>
<rect x="96.3" y="46.7" width="0.9" height="1.1" fill="#e6e6e6"/>
<rect x="107.3" y="43.5" width="2.9" height="0.9" fill="#777"/>
<rect x="25.4" y="45.3" width="1.6" height="0.8" fill="#5c5c5c"/>
<rect x="72.2" y="44.1" width="2.0" height="1.1" fill="#8f8f8f"/>
<rect x="32.1" y="43.7" width="1.3" height="1.2" fill="#e6e6e6"/>
<rect x="96.5" y="45.2" width="1.6" height="1.1" fill="#e6e6e6"/>
<rect x="27.5" y="43.8" width="1.0" height="0.8" fill="#8f8f8f"/>
<rect x="57.6" y="44.8" width="2.7" height="0.7" fill="#8f8f8f"/>
<rect x="129.9" y="45.0" width="1.8" height="1.0" fill="#e6e6e6"/>
<rect x="49.4" y="46.9" width="2.0" height="1.0" fill="#5c5c5c"/>
<rect x="25.1" y="45.5" width="2.3" height="1.2" fill="#c9c9c9"/>
<rect x="19.6" y="47.6" width="1.7" height="1.1" fill="#e6e6e6"/>
<rect x="164.3" y="47.4" width="2.9" height="0.6" fill="#8f8f8f"/>
<rect x="75.4" y="46.9" width="2.7" height="1.3" fill="#e6e6e6"/>
<rect x="4.0" y="44.9" width="3.0" height="1.2" fill="#e6e6e6"/>
<rect x="167.3" y="44.1" width="1.1" height="0.7" fill="#777"/>
<rect x="167.3" y="43.4" width="2.8" height="1.1" fill="#e6e6e6"/>
<rect x="18.3" y="47.0" width="0.8" height="0.7" fill="#777"/>
<rect x="158.5" y="46.3" width="1.5" height="0.7" fill="#5c5c5c"/>
<rect x="92.7" y="45.2" width="2.6" height="0.7" fill="#5c5c5c"/>
<rect x="92.1" y="45.9" width="1.7" height="0.8" fill="#777"/>
<rect x="4.2" y="45.7" width="3.2" height="0.8" fill="#5c5c5c"/>
<rect x="112.3" y="47.6" width="1.9" height="0.8" fill="#c9c9c9"/>
<rect x="8.9" y="45.0" width="2.4" height="0.6" fill="#c9c9c9"/>
<rect x="87.7" y="46.4" width="1.8" height="0.8" fill="#e6e6e6"/>
<rect x="159.4" y="44.0" width="0.9" height="0.8" fill="#e6e6e6"/>
<rect x="64.9" y="44.9" width="0.8" height="0.8" fill="#777"/>
<rect x="15.3" y="45.5" width="1.3" height="1.1" fill="#c9c9c9"/>
<rect x="42.8" y="44.0" width="2.6" height="0.8" fill="#777"/>
<rect x="87.3" y="43.8" width="1.3" height="0.9" fill="#8f8f8f"/>
<rect x="174.6" y="11.3" width="1.7" height="0.7" fill="#777"/>
<rect x="167.7" y="7.9" width="0.9" height="0.9" fill="#5c5c5c"/>
<rect x="172.7" y="41.9" width="3.0" height="0.8" fill="#c9c9c9"/>
<rect x="172.0" y="24.9" width="1.9" height="0.8" fill="#e6e6e6"/>
<rect x="173.6" y="41.5" width="1.9" height="0.7" fill="#8f8f8f"/>
<rect x="168.9" y="18.7" width="3.1" height="0.7" fill="#c9c9c9"/>
<rect x="169.7" y="33.7" width="1.5" height="1.2" fill="#8f8f8f"/>
<rect x="166.9" y="23.0" width="1.7" height="1.2" fill="#c9c9c9"/>
<rect x="169.2" y="32.5" width="1.9" height="1.0" fill="#c9c9c9"/>
<rect x="173.4" y="33.6" width="0.9" height="0.6" fill="#8f8f8f"/>
<rect x="173.3" y="8.2" width="1.3" height="0.6" fill="#777"/>
<rect x="169.4" y="15.8" width="3.1" height="1.0" fill="#5c5c5c"/>
<rect x="172.8" y="30.8" width="3.0" height="0.8" fill="#777"/>
<rect x="174.3" y="28.8" width="3.1" height="0.6" fill="#c9c9c9"/>
<rect x="167.4" y="31.8" width="1.9" height="1.1" fill="#5c5c5c"/>
<rect x="174.3" y="35.3" width="1.1" height="0.9" fill="#8f8f8f"/>
<rect x="173.3" y="32.6" width="2.8" height="1.1" fill="#777"/>
<rect x="168.5" y="37.0" width="1.9" height="1.1" fill="#777"/>
<rect x="167.2" y="13.1" width="2.6" height="0.8" fill="#8f8f8f"/>
<rect x="172.0" y="23.3" width="2.1" height="0.7" fill="#e6e6e6"/>
<rect x="174.0" y="41.6" width="1.4" height="0.7" fill="#8f8f8f"/>
<rect x="170.1" y="41.6" width="3.1" height="0.7" fill="#c9c9c9"/>
<rect x="170.0" y="28.3" width="2.4" height="1.1" fill="#8f8f8f"/>
<rect x="173.1" y="16.6" width="1.5" height="0.8" fill="#5c5c5c"/>
<rect x="172.8" y="13.2" width="1.4" height="0.8" fill="#c9c9c9"/>
<rect x="168.9" y="38.7" width="1.3" height="0.6" fill="#5c5c5c"/>
<rect x="174.9" y="24.3" width="1.4" height="1.2" fill="#e6e6e6"/>
<rect x="174.9" y="9.7" width="1.9" height="1.2" fill="#e6e6e6"/>
<rect x="174.3" y="7.5" width="1.5" height="0.7" fill="#c9c9c9"/>
<rect x="171.6" y="35.8" width="1.3" height="0.7" fill="#777"/>
<rect x="173.9" y="22.2" width="1.4" height="1.1" fill="#8f8f8f"/>
<rect x="167.4" y="27.5" width="2.3" height="0.8" fill="#5c5c5c"/>
<rect x="169.4" y="7.6" width="3.2" height="0.6" fill="#c9c9c9"/>
<rect x="173.4" y="35.5" width="1.8" height="0.9" fill="#777"/>
<rect x="169.2" y="13.3" width="2.7" height="1.0" fill="#8f8f8f"/>
<rect x="170.0" y="34.7" width="2.4" height="0.7" fill="#777"/>
<rect x="167.3" y="11.9" width="2.5" height="0.9" fill="#5c5c5c"/>
<rect x="172.2" y="21.0" width="0.9" height="1.1" fill="#5c5c5c"/>
<rect x="170.0" y="6.7" width="2.6" height="1.2" fill="#c9c9c9"/>
<rect x="169.8" y="20.6" width="3.1" height="0.9" fill="#c9c9c9"/>
<rect x="5.5" y="37.0" width="1.8" height="1.2" fill="#e6e6e6"/>
<rect x="7.6" y="10.1" width="0.9" height="0.7" fill="#e6e6e6"/>
<rect x="3.5" y="29.3" width="1.7" height="1.0" fill="#c9c9c9"/>
<rect x="5.1" y="11.3" width="1.2" height="0.6" fill="#e6e6e6"/>
<rect x="5.9" y="36.4" width="3.1" height="0.7" fill="#c9c9c9"/>
<rect x="8.0" y="6.7" width="3.0" height="0.8" fill="#777"/>
<rect x="8.6" y="20.1" width="3.0" height="1.0" fill="#c9c9c9"/>
<rect x="6.8" y="38.4" width="2.3" height="1.0" fill="#c9c9c9"/>
<rect x="8.0" y="12.1" width="1.3" height="0.9" fill="#777"/>
<rect x="3.9" y="19.0" width="1.2" height="1.3" fill="#c9c9c9"/>
<rect x="3.2" y="26.9" width="2.6" height="0.6" fill="#5c5c5c"/>
<rect x="3.7" y="28.4" width="2.1" height="1.0" fill="#5c5c5c"/>
<rect x="6.9" y="17.0" width="1.4" height="0.9" fill="#5c5c5c"/>
<rect x="5.7" y="22.1" width="0.9" height="1.0" fill="#e6e6e6"/>
<rect x="10" y="3.3" width="155.6" height="38.8" fill="#0b0b0c"/>
<rect x="161.7" y="9.5" width="3" height="30.5" fill="#4b4b4d"/>
<circle cx="170.4" cy="46.3" r="1.6" fill="#f2f2f2"/>
<text x="15.6" y="13.9" font-size="5" fill="#b9b9b9" textLength="30.7" lengthAdjust="spacingAndGlyphs">V-NAND SSD</text>
<text x="15" y="24.5" font-size="10.8" font-weight="bold" fill="#fff" textLength="40" lengthAdjust="spacingAndGlyphs">990<tspan fill="#e3312d" dx="1">PRO</tspan></text>
<text x="15.6" y="31.4" font-size="3.4" fill="#b0b0b0" textLength="39.4" lengthAdjust="spacingAndGlyphs">PCIe 4.0 NVMe M.2 SSD</text>
<text x="15.6" y="35" font-size="2.2" fill="#8d8d8d" textLength="25" lengthAdjust="spacingAndGlyphs">MZ-V9P1T0 Rev.0</text>
<text x="15.6" y="38.8" font-size="3" fill="#9a9a9a" textLength="38.5" lengthAdjust="spacingAndGlyphs">SAMSUNG ELECTRONICS CO., LTD.</text>
<text x="62.7" y="38.5" font-size="6.3" font-weight="bold" fill="#e9e9e9" textLength="13" lengthAdjust="spacingAndGlyphs">1TB</text>
<text x="130.1" y="15.1" font-size="6.9" font-weight="bold" fill="#e4e4e4" textLength="28.2" lengthAdjust="spacingAndGlyphs">SAMSUNG</text>
</g>
<text x="2987.0" y="1308.6" font-size="43" fill="#000" font-weight="bold" font-style="normal" textLength="289.0" lengthAdjust="spacingAndGlyphs" >prdxcpsrv003</text>
<rect x="2985.3" y="1350.2" width="141.1" height="134.3" rx="11" fill="#fff" stroke="#000" stroke-width="4"/>
<text x="3013.3" y="1412.6" font-size="43" fill="#000" font-weight="normal" font-style="normal" textLength="84.2" lengthAdjust="spacingAndGlyphs" >eth0</text>
<text x="3020.6" y="1473.1" font-size="43" fill="#000" font-weight="normal" font-style="italic" textLength="71.3" lengthAdjust="spacingAndGlyphs" >(1G)</text>
<rect x="3135.2" y="1350.2" width="141.3" height="134.3" rx="11" fill="#fff" stroke="#000" stroke-width="4"/>
<text x="3169.3" y="1412.6" font-size="43" fill="#000" font-weight="normal" font-style="normal" textLength="72.1" lengthAdjust="spacingAndGlyphs" >eth1</text>
<text x="3157.8" y="1473.1" font-size="43" fill="#000" font-weight="normal" font-style="italic" textLength="97.0" lengthAdjust="spacingAndGlyphs" >(10G)</text>
<rect x="393.7" y="2365.7" width="751.7" height="250.9" rx="117.9" ry="125.5" fill="#fff" stroke="#5dba63" stroke-width="3.8"/>
<text x="728.4" y="2422.4" font-size="43" fill="#5dba63" font-weight="normal" font-style="normal" textLength="80.0" lengthAdjust="spacingAndGlyphs" >LAN</text>
<text x="543.4" y="2482.8" font-size="43" fill="#5dba63" font-weight="normal" font-style="normal" textLength="449.9" lengthAdjust="spacingAndGlyphs" >management network /</text>
<text x="615.4" y="2543.2" font-size="43" fill="#5dba63" font-weight="normal" font-style="normal" textLength="305.9" lengthAdjust="spacingAndGlyphs" >default network</text>
<text x="622.4" y="2603.6" font-size="43" fill="#5dba63" font-weight="normal" font-style="normal" textLength="292.0" lengthAdjust="spacingAndGlyphs" >192.168.10.0/24</text>
<rect x="1481.5" y="2356.9" width="749.3" height="267.5" rx="125.7" ry="133.8" fill="#fff" stroke="#e9973f" stroke-width="3.8"/>
<text x="1746.5" y="2413.6" font-size="43" fill="#e9973f" font-weight="normal" font-style="normal" textLength="219.7" lengthAdjust="spacingAndGlyphs" >VLAN_WEB</text>
<text x="1769.5" y="2474.0" font-size="43" fill="#e9973f" font-weight="normal" font-style="normal" textLength="173.5" lengthAdjust="spacingAndGlyphs" >(VLAN 6)</text>
<text x="1680.9" y="2534.4" font-size="43" fill="#e9973f" font-weight="normal" font-style="normal" textLength="350.7" lengthAdjust="spacingAndGlyphs" >dmz intermediaire</text>
<text x="1717.8" y="2594.8" font-size="43" fill="#e9973f" font-weight="normal" font-style="normal" textLength="276.9" lengthAdjust="spacingAndGlyphs" >192.168.5.0/24</text>
<rect x="2501.5" y="2347.3" width="749.3" height="267.5" rx="125.7" ry="133.8" fill="#fff" stroke="#d32626" stroke-width="3.8"/>
<text x="2697.4" y="2404.0" font-size="43" fill="#d32626" font-weight="normal" font-style="normal" textLength="357.8" lengthAdjust="spacingAndGlyphs" >VLAN_DMZ_FIRST</text>
<text x="2780.7" y="2464.4" font-size="43" fill="#d32626" font-weight="normal" font-style="normal" textLength="191.2" lengthAdjust="spacingAndGlyphs" >(VLAN 10)</text>
<text x="2753.7" y="2524.8" font-size="43" fill="#d32626" font-weight="normal" font-style="normal" textLength="245.1" lengthAdjust="spacingAndGlyphs" >dmz frontale</text>
<text x="2736.9" y="2585.2" font-size="43" fill="#d32626" font-weight="normal" font-style="normal" textLength="278.7" lengthAdjust="spacingAndGlyphs" >192.168.8.0/24</text>
<rect x="3543.6" y="2347.3" width="749.3" height="267.5" rx="125.7" ry="133.8" fill="#fff" stroke="#1f70d2" stroke-width="3.8"/>
<text x="3758.7" y="2404.0" font-size="43" fill="#1f70d2" font-weight="normal" font-style="normal" textLength="320.7" lengthAdjust="spacingAndGlyphs" >VLAN_STORAGE</text>
<text x="3824.2" y="2464.4" font-size="43" fill="#1f70d2" font-weight="normal" font-style="normal" textLength="189.4" lengthAdjust="spacingAndGlyphs" >(VLAN 12)</text>
<text x="3726.8" y="2524.8" font-size="43" fill="#1f70d2" font-weight="normal" font-style="normal" textLength="384.3" lengthAdjust="spacingAndGlyphs" >réseau de stockage</text>
<text x="3771.5" y="2585.2" font-size="43" fill="#1f70d2" font-weight="normal" font-style="normal" textLength="295.0" lengthAdjust="spacingAndGlyphs" >192.168.12.0/24</text>
<path d="M468.9,2662.5 A18.5,18.5 0 0 0 487.4,2681 H2362 A19,19 0 0 1 2381,2699.5 A19,19 0 0 1 2400,2681 H4273.5 A18.5,18.5 0 0 0 4292,2662.5" fill="none" stroke="#000" stroke-width="3.8"/>
</g>
<g font-family="DejaVu Sans, sans-serif" font-size="46">
<text x="3879.3" y="2874.6" fill="#000" stroke="#000" stroke-width="1" textLength="484" lengthAdjust="spacingAndGlyphs">www.myprivatelab.tech</text>
<text x="3876.3" y="2871.6" fill="#fff" stroke="#fff" stroke-width="1" textLength="484" lengthAdjust="spacingAndGlyphs">www.myprivatelab.tech</text>
</g>
</svg>
</body></html>
